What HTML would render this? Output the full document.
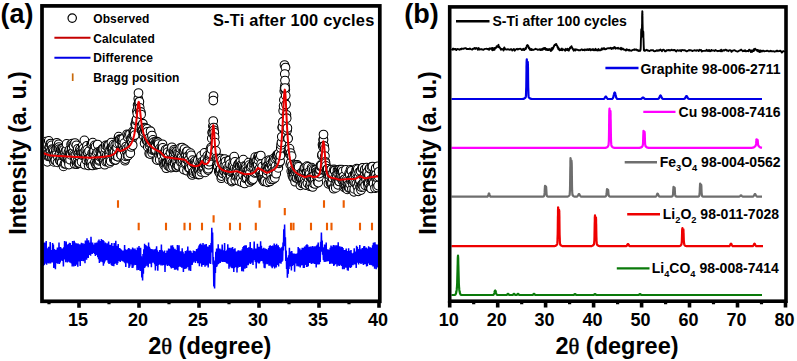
<!DOCTYPE html>
<html><head><meta charset="utf-8"><style>
html,body{margin:0;padding:0;background:#fff;width:797px;height:361px;overflow:hidden}
svg{display:block}
text{font-family:"Liberation Sans", sans-serif;font-weight:bold;fill:#000}
.tl{font-size:18px;text-anchor:middle}
.xl{font-size:23.5px;text-anchor:middle}
.yl{font-size:23.2px;text-anchor:middle}
.pl{font-size:27px;text-anchor:middle}
.lg{font-size:12px;letter-spacing:0.12px}
.tt{font-size:16.4px;text-anchor:end;letter-spacing:0.2px}
.lb{font-size:14px;text-anchor:end}
.sb{font-size:9.3px}
.th{font-family:"Liberation Serif",serif;font-weight:normal;font-size:22.5px;stroke:#000;stroke-width:0.5px}
</style></head><body>
<svg width="797" height="361" viewBox="0 0 797 361">
<defs><clipPath id="ca"><rect x="43.8" y="7.8" width="334.1" height="291.6"/></clipPath></defs>
<path d="M118 200.3V207.7M259.6 200.3V207.7M324 200.3V207.7M343.7 200.3V207.7M284.8 208V215.2M213.6 215.3V222.5M138.7 222.8V230.2M166 222.8V230.2M184.5 222.8V230.2M190 222.8V230.2M202 222.8V230.2M230 222.8V230.2M240 222.8V230.2M255.8 222.8V230.2M291 222.8V230.2M293.5 222.8V230.2M311 222.8V230.2M327 222.8V230.2M331.5 222.8V230.2M360 222.8V230.2M372 222.8V230.2" stroke="#ec5c00" stroke-width="2.1"/>
<polyline points="43.0,242.8 43.4,266.0 43.8,243.0 44.2,265.0 44.6,242.5 45.0,263.8 45.4,243.2 45.8,262.3 46.2,241.1 46.6,264.7 47.0,248.6 47.4,261.9 47.8,248.3 48.2,263.2 48.6,246.8 49.0,263.5 49.4,248.2 49.8,262.0 50.2,242.0 50.6,263.4 51.0,250.5 51.4,261.3 51.8,250.1 52.2,262.4 52.6,242.9 53.0,261.9 53.4,244.4 53.8,267.9 54.2,249.0 54.6,262.5 55.0,249.7 55.4,269.3 55.8,249.8 56.2,261.9 56.6,249.8 57.0,263.3 57.4,247.6 57.8,263.8 58.2,248.7 58.6,262.1 59.0,242.4 59.4,263.9 59.8,248.8 60.2,262.6 60.6,246.9 61.0,260.8 61.4,249.1 61.8,259.8 62.2,248.4 62.6,261.1 63.0,248.7 63.4,266.5 63.8,247.3 64.2,259.4 64.6,241.0 65.0,259.5 65.4,246.3 65.8,262.3 66.2,241.6 66.6,259.7 67.0,244.8 67.4,262.5 67.8,244.5 68.2,261.4 68.6,244.1 69.0,261.7 69.4,242.7 69.8,262.4 70.2,243.0 70.6,262.8 71.0,245.6 71.4,263.6 71.8,245.0 72.2,266.6 72.6,241.1 73.0,264.9 73.4,245.5 73.8,266.4 74.2,240.8 74.6,264.6 75.0,242.4 75.4,265.9 75.8,243.7 76.2,264.7 76.6,243.3 77.0,264.1 77.4,243.7 77.8,266.7 78.2,243.5 78.6,261.5 79.0,245.3 79.4,261.2 79.8,244.2 80.2,266.0 80.6,245.0 81.0,260.4 81.4,242.8 81.8,260.9 82.2,243.3 82.6,258.6 83.0,243.3 83.4,261.3 83.8,244.8 84.2,260.0 84.6,243.7 85.0,263.2 85.4,240.4 85.8,259.3 86.2,242.1 86.6,259.7 87.0,238.2 87.4,256.7 87.8,241.8 88.2,258.0 88.6,240.3 89.0,254.9 89.4,243.0 89.8,255.0 90.2,242.6 90.6,255.7 91.0,236.8 91.4,252.8 91.8,244.3 92.2,254.0 92.6,242.5 93.0,252.7 93.4,244.6 93.8,253.0 94.2,244.5 94.6,253.9 95.0,242.7 95.4,255.9 95.8,243.7 96.2,254.3 96.6,242.5 97.0,255.0 97.4,242.6 97.8,257.2 98.2,240.7 98.6,259.2 99.0,239.6 99.4,263.0 99.8,241.4 100.2,261.6 100.6,240.9 101.0,261.8 101.4,239.1 101.8,259.5 102.2,240.1 102.6,262.3 103.0,240.1 103.4,265.8 103.8,241.1 104.2,263.5 104.6,243.8 105.0,261.4 105.4,242.4 105.8,259.6 106.2,246.0 106.6,260.3 107.0,243.3 107.4,260.3 107.8,243.8 108.2,262.8 108.6,241.6 109.0,264.0 109.4,244.9 109.8,263.6 110.2,244.8 110.6,263.2 111.0,245.3 111.4,265.1 111.8,242.9 112.2,266.1 112.6,245.9 113.0,263.9 113.4,246.7 113.8,266.2 114.2,242.9 114.6,264.0 115.0,246.7 115.4,263.5 115.8,240.7 116.2,263.5 116.6,245.7 117.0,265.0 117.4,246.8 117.8,263.2 118.2,244.1 118.6,260.4 119.0,248.6 119.4,261.1 119.8,248.0 120.2,262.0 120.6,249.1 121.0,260.1 121.4,249.9 121.8,260.6 122.2,251.1 122.6,261.2 123.0,250.5 123.4,261.4 123.8,251.4 124.2,262.3 124.6,245.0 125.0,263.2 125.4,249.2 125.8,267.1 126.2,249.7 126.6,262.1 127.0,250.4 127.4,262.8 127.8,249.2 128.2,263.6 128.6,248.1 129.0,267.9 129.4,248.4 129.8,266.5 130.2,251.2 130.6,264.1 131.0,249.3 131.4,264.6 131.8,250.7 132.2,268.1 132.6,247.4 133.0,267.7 133.4,248.6 133.8,265.6 134.2,250.0 134.6,263.6 135.0,248.4 135.4,265.1 135.8,250.0 136.2,263.8 136.6,251.3 137.0,270.3 137.4,247.5 137.8,264.7 138.2,248.4 138.6,269.9 139.0,246.0 139.4,266.8 139.8,247.9 140.2,270.9 140.6,247.8 141.0,270.7 141.4,256.3 141.8,277.6 142.2,259.5 142.6,280.5 143.0,253.9 143.4,273.7 143.8,249.3 144.2,268.0 144.6,243.7 145.0,267.4 145.4,245.0 145.8,266.3 146.2,245.5 146.6,263.0 147.0,247.4 147.4,265.7 147.8,246.2 148.2,267.2 148.6,242.4 149.0,261.1 149.4,246.7 149.8,263.8 150.2,248.5 150.6,261.9 151.0,250.4 151.4,267.2 151.8,249.1 152.2,261.2 152.6,249.6 153.0,262.7 153.4,251.5 153.8,261.0 154.2,249.3 154.6,264.2 155.0,251.6 155.4,270.6 155.8,248.7 156.2,263.9 156.6,246.2 157.0,266.1 157.4,250.3 157.8,270.8 158.2,251.7 158.6,265.0 159.0,252.1 159.4,264.0 159.8,250.0 160.2,264.5 160.6,251.2 161.0,265.4 161.4,244.5 161.8,264.3 162.2,250.3 162.6,265.4 163.0,252.6 163.4,265.1 163.8,251.6 164.2,263.8 164.6,250.5 165.0,271.9 165.4,253.4 165.8,264.7 166.2,253.0 166.6,263.8 167.0,250.6 167.4,266.1 167.8,250.7 168.2,265.5 168.6,248.6 169.0,265.1 169.4,248.8 169.8,266.0 170.2,249.8 170.6,267.2 171.0,245.6 171.4,268.6 171.8,245.4 172.2,268.1 172.6,245.3 173.0,266.7 173.4,247.3 173.8,268.0 174.2,249.7 174.6,269.8 175.0,248.7 175.4,269.7 175.8,250.0 176.2,269.5 176.6,250.6 177.0,268.4 177.4,244.9 177.8,270.5 178.2,250.9 178.6,266.9 179.0,245.3 179.4,266.5 179.8,251.7 180.2,266.4 180.6,251.3 181.0,267.0 181.4,251.6 181.8,267.8 182.2,248.3 182.6,267.0 183.0,251.7 183.4,272.1 183.8,253.5 184.2,268.5 184.6,253.4 185.0,269.1 185.4,251.0 185.8,268.5 186.2,252.5 186.6,268.5 187.0,250.3 187.4,266.6 187.8,246.5 188.2,267.0 188.6,250.7 189.0,270.5 189.4,251.0 189.8,266.7 190.2,250.4 190.6,270.9 191.0,251.2 191.4,263.9 191.8,253.0 192.2,264.9 192.6,252.9 193.0,262.6 193.4,250.6 193.8,261.8 194.2,251.1 194.6,261.1 195.0,251.2 195.4,263.0 195.8,251.6 196.2,261.0 196.6,249.0 197.0,261.2 197.4,249.5 197.8,263.3 198.2,247.7 198.6,262.7 199.0,245.4 199.4,266.3 199.8,244.2 200.2,262.5 200.6,243.4 201.0,263.5 201.4,244.8 201.8,266.8 202.2,245.8 202.6,264.4 203.0,242.9 203.4,265.1 203.8,246.2 204.2,263.3 204.6,244.6 205.0,266.8 205.4,244.8 205.8,265.5 206.2,243.9 206.6,265.5 207.0,246.9 207.4,262.1 207.8,246.5 208.2,267.5 208.6,247.5 209.0,263.6 209.4,245.1 209.8,262.8 210.2,246.7 210.6,264.1 211.0,243.0 211.4,252.4 211.8,227.8 212.2,245.0 212.6,232.4 213.0,264.5 213.4,257.0 213.8,286.4 214.2,273.9 214.6,288.5 215.0,260.5 215.4,273.0 215.8,251.7 216.2,267.1 216.6,248.4 217.0,266.4 217.4,249.1 217.8,264.4 218.2,244.3 218.6,263.9 219.0,250.4 219.4,262.4 219.8,248.6 220.2,262.9 220.6,249.6 221.0,261.8 221.4,251.6 221.8,260.9 222.2,244.6 222.6,262.0 223.0,250.3 223.4,261.0 223.8,252.5 224.2,261.9 224.6,243.1 225.0,261.8 225.4,251.4 225.8,262.3 226.2,251.0 226.6,263.2 227.0,249.8 227.4,263.8 227.8,244.3 228.2,263.6 228.6,248.5 229.0,268.8 229.4,247.7 229.8,266.7 230.2,250.0 230.6,264.4 231.0,247.8 231.4,267.7 231.8,248.8 232.2,268.2 232.6,247.1 233.0,266.6 233.4,250.1 233.8,271.9 234.2,249.0 234.6,267.9 235.0,248.2 235.4,266.9 235.8,251.5 236.2,264.9 236.6,251.7 237.0,272.4 237.4,251.3 237.8,267.9 238.2,250.2 238.6,265.2 239.0,250.5 239.4,267.0 239.8,251.5 240.2,266.8 240.6,250.5 241.0,266.0 241.4,250.9 241.8,271.2 242.2,249.2 242.6,269.7 243.0,246.9 243.4,271.5 243.8,246.0 244.2,268.5 244.6,245.4 245.0,268.7 245.4,245.3 245.8,265.8 246.2,245.3 246.6,267.9 247.0,248.4 247.4,264.6 247.8,248.0 248.2,265.2 248.6,247.2 249.0,263.6 249.4,248.8 249.8,262.1 250.2,242.1 250.6,264.1 251.0,248.0 251.4,262.8 251.8,248.0 252.2,262.2 252.6,249.2 253.0,265.1 253.4,249.8 253.8,259.4 254.2,241.5 254.6,260.1 255.0,250.1 255.4,261.9 255.8,248.4 256.2,268.4 256.6,249.0 257.0,262.6 257.4,243.7 257.8,261.0 258.2,248.5 258.6,263.6 259.0,246.7 259.4,263.5 259.8,248.6 260.2,261.6 260.6,241.3 261.0,261.0 261.4,245.8 261.8,260.9 262.2,248.4 262.6,261.3 263.0,249.0 263.4,263.4 263.8,247.8 264.2,267.8 264.6,249.4 265.0,268.3 265.4,248.5 265.8,264.2 266.2,248.9 266.6,261.2 267.0,249.7 267.4,264.2 267.8,249.5 268.2,262.6 268.6,248.1 269.0,265.7 269.4,246.0 269.8,265.8 270.2,245.3 270.6,263.9 271.0,246.0 271.4,266.7 271.8,246.0 272.2,268.2 272.6,245.5 273.0,266.8 273.4,247.1 273.8,265.5 274.2,243.6 274.6,268.5 275.0,245.1 275.4,267.2 275.8,247.7 276.2,267.5 276.6,243.7 277.0,264.2 277.4,246.1 277.8,265.1 278.2,245.2 278.6,266.6 279.0,247.0 279.4,263.2 279.8,248.5 280.2,263.1 280.6,248.2 281.0,263.8 281.4,247.4 281.8,261.9 282.2,246.8 282.6,260.7 283.0,242.5 283.4,250.5 283.8,229.2 284.2,243.7 284.6,224.4 285.0,246.2 285.4,237.2 285.8,261.0 286.2,250.4 286.6,268.9 287.0,257.5 287.4,277.8 287.8,262.3 288.2,273.9 288.6,255.2 289.0,269.0 289.4,247.7 289.8,266.2 290.2,253.1 290.6,266.4 291.0,251.4 291.4,270.6 291.8,251.1 292.2,266.1 292.6,253.2 293.0,265.1 293.4,254.0 293.8,264.6 294.2,253.6 294.6,271.8 295.0,254.3 295.4,263.4 295.8,253.7 296.2,263.3 296.6,253.7 297.0,266.2 297.4,253.2 297.8,264.1 298.2,247.1 298.6,266.4 299.0,248.3 299.4,265.6 299.8,248.4 300.2,267.6 300.6,251.0 301.0,265.6 301.4,249.8 301.8,264.8 302.2,247.7 302.6,265.3 303.0,247.9 303.4,267.9 303.8,247.7 304.2,267.9 304.6,246.5 305.0,265.1 305.4,246.6 305.8,263.7 306.2,245.1 306.6,266.9 307.0,244.3 307.4,266.8 307.8,245.2 308.2,266.3 308.6,247.4 309.0,262.0 309.4,246.9 309.8,263.0 310.2,246.5 310.6,261.8 311.0,246.6 311.4,263.9 311.8,248.2 312.2,262.9 312.6,246.1 313.0,263.6 313.4,248.3 313.8,263.0 314.2,246.6 314.6,263.9 315.0,246.3 315.4,263.0 315.8,246.8 316.2,267.5 316.6,245.5 317.0,264.2 317.4,244.5 317.8,264.5 318.2,242.4 318.6,264.4 319.0,247.6 319.4,264.2 319.8,246.8 320.2,262.1 320.6,241.7 321.0,251.7 321.4,232.6 321.8,248.6 322.2,240.4 322.6,254.8 323.0,247.3 323.4,259.9 323.8,249.8 324.2,261.7 324.6,244.5 325.0,261.9 325.4,250.2 325.8,261.5 326.2,242.5 326.6,261.6 327.0,249.9 327.4,261.0 327.8,249.4 328.2,261.3 328.6,249.9 329.0,261.3 329.4,249.8 329.8,263.9 330.2,247.7 330.6,263.6 331.0,245.5 331.4,262.1 331.8,246.6 332.2,263.8 332.6,247.5 333.0,263.7 333.4,245.1 333.8,266.1 334.2,246.7 334.6,265.1 335.0,245.2 335.4,264.0 335.8,248.0 336.2,262.4 336.6,245.3 337.0,266.5 337.4,247.9 337.8,264.1 338.2,242.3 338.6,265.6 339.0,250.0 339.4,266.0 339.8,246.3 340.2,263.4 340.6,248.4 341.0,265.2 341.4,246.7 341.8,266.1 342.2,247.0 342.6,269.3 343.0,247.9 343.4,266.1 343.8,250.1 344.2,269.2 344.6,250.1 345.0,266.3 345.4,250.1 345.8,267.8 346.2,248.6 346.6,267.8 347.0,251.1 347.4,270.2 347.8,250.9 348.2,270.8 348.6,248.3 349.0,267.5 349.4,251.1 349.8,267.4 350.2,250.8 350.6,268.1 351.0,250.1 351.4,266.9 351.8,253.4 352.2,264.0 352.6,254.0 353.0,265.2 353.4,252.8 353.8,263.1 354.2,248.2 354.6,264.5 355.0,251.9 355.4,264.3 355.8,251.4 356.2,268.0 356.6,245.8 357.0,262.6 357.4,247.1 357.8,262.6 358.2,250.6 358.6,264.6 359.0,249.0 359.4,262.9 359.8,245.0 360.2,263.1 360.6,249.5 361.0,263.9 361.4,249.3 361.8,262.2 362.2,248.1 362.6,263.4 363.0,248.5 363.4,264.9 363.8,246.3 364.2,263.8 364.6,246.1 365.0,264.3 365.4,248.3 365.8,261.3 366.2,247.4 366.6,266.5 367.0,248.6 367.4,265.9 367.8,248.4 368.2,261.7 368.6,246.3 369.0,263.6 369.4,247.2 369.8,265.0 370.2,247.3 370.6,263.8 371.0,247.8 371.4,265.2 371.8,248.4 372.2,265.2 372.6,245.2 373.0,266.4 373.4,242.8 373.8,265.5 374.2,242.4 374.6,268.8 375.0,242.3 375.4,265.4 375.8,244.2 376.2,269.2 376.6,245.2 377.0,266.2 377.4,244.5 377.8,267.5 378.2,245.8 378.6,263.9 379.0,245.9 379.4,264.9" fill="none" stroke="#0000ff" stroke-width="1.5"/>
<g clip-path="url(#ca)" fill="#fff" stroke="#000" stroke-width="1.05"><circle cx="43.5" cy="149.5" r="4.35"/><circle cx="43.9" cy="156.4" r="4.35"/><circle cx="44.2" cy="155.9" r="4.35"/><circle cx="44.6" cy="159.0" r="4.35"/><circle cx="44.9" cy="142.5" r="4.35"/><circle cx="45.3" cy="141.5" r="4.35"/><circle cx="45.6" cy="147.0" r="4.35"/><circle cx="46.0" cy="157.9" r="4.35"/><circle cx="46.3" cy="143.7" r="4.35"/><circle cx="46.7" cy="158.5" r="4.35"/><circle cx="47.0" cy="159.8" r="4.35"/><circle cx="47.4" cy="161.8" r="4.35"/><circle cx="47.7" cy="154.0" r="4.35"/><circle cx="48.1" cy="156.3" r="4.35"/><circle cx="48.4" cy="155.1" r="4.35"/><circle cx="48.8" cy="140.9" r="4.35"/><circle cx="49.1" cy="147.6" r="4.35"/><circle cx="49.5" cy="146.9" r="4.35"/><circle cx="49.8" cy="156.2" r="4.35"/><circle cx="50.2" cy="143.8" r="4.35"/><circle cx="50.5" cy="151.3" r="4.35"/><circle cx="50.9" cy="143.6" r="4.35"/><circle cx="51.2" cy="155.2" r="4.35"/><circle cx="51.6" cy="145.4" r="4.35"/><circle cx="51.9" cy="157.6" r="4.35"/><circle cx="52.3" cy="149.0" r="4.35"/><circle cx="52.6" cy="150.1" r="4.35"/><circle cx="53.0" cy="155.0" r="4.35"/><circle cx="53.3" cy="159.2" r="4.35"/><circle cx="53.7" cy="151.2" r="4.35"/><circle cx="54.0" cy="161.9" r="4.35"/><circle cx="54.4" cy="156.7" r="4.35"/><circle cx="54.7" cy="154.0" r="4.35"/><circle cx="55.1" cy="160.5" r="4.35"/><circle cx="55.4" cy="160.1" r="4.35"/><circle cx="55.8" cy="151.3" r="4.35"/><circle cx="56.1" cy="149.1" r="4.35"/><circle cx="56.5" cy="154.6" r="4.35"/><circle cx="56.8" cy="142.8" r="4.35"/><circle cx="57.2" cy="147.5" r="4.35"/><circle cx="57.5" cy="162.4" r="4.35"/><circle cx="57.9" cy="156.7" r="4.35"/><circle cx="58.2" cy="146.8" r="4.35"/><circle cx="58.6" cy="144.3" r="4.35"/><circle cx="58.9" cy="147.0" r="4.35"/><circle cx="59.3" cy="149.0" r="4.35"/><circle cx="59.6" cy="160.2" r="4.35"/><circle cx="60.0" cy="153.5" r="4.35"/><circle cx="60.3" cy="161.2" r="4.35"/><circle cx="60.7" cy="149.6" r="4.35"/><circle cx="61.0" cy="157.5" r="4.35"/><circle cx="61.4" cy="149.2" r="4.35"/><circle cx="61.7" cy="162.5" r="4.35"/><circle cx="62.1" cy="155.6" r="4.35"/><circle cx="62.4" cy="149.7" r="4.35"/><circle cx="62.8" cy="148.7" r="4.35"/><circle cx="63.1" cy="155.1" r="4.35"/><circle cx="63.5" cy="166.4" r="4.35"/><circle cx="63.8" cy="149.8" r="4.35"/><circle cx="64.2" cy="156.2" r="4.35"/><circle cx="64.5" cy="163.8" r="4.35"/><circle cx="64.9" cy="152.1" r="4.35"/><circle cx="65.2" cy="156.4" r="4.35"/><circle cx="65.6" cy="163.8" r="4.35"/><circle cx="65.9" cy="150.1" r="4.35"/><circle cx="66.3" cy="150.7" r="4.35"/><circle cx="66.6" cy="143.9" r="4.35"/><circle cx="67.0" cy="156.4" r="4.35"/><circle cx="67.3" cy="158.5" r="4.35"/><circle cx="67.7" cy="160.0" r="4.35"/><circle cx="68.0" cy="159.3" r="4.35"/><circle cx="68.4" cy="152.5" r="4.35"/><circle cx="68.7" cy="161.2" r="4.35"/><circle cx="69.0" cy="164.6" r="4.35"/><circle cx="69.4" cy="150.0" r="4.35"/><circle cx="69.7" cy="154.1" r="4.35"/><circle cx="70.1" cy="159.7" r="4.35"/><circle cx="70.4" cy="153.6" r="4.35"/><circle cx="70.8" cy="154.9" r="4.35"/><circle cx="71.1" cy="144.4" r="4.35"/><circle cx="71.5" cy="149.0" r="4.35"/><circle cx="71.8" cy="147.9" r="4.35"/><circle cx="72.2" cy="143.7" r="4.35"/><circle cx="72.5" cy="152.5" r="4.35"/><circle cx="72.9" cy="152.7" r="4.35"/><circle cx="73.2" cy="144.9" r="4.35"/><circle cx="73.6" cy="146.1" r="4.35"/><circle cx="73.9" cy="154.4" r="4.35"/><circle cx="74.3" cy="156.2" r="4.35"/><circle cx="74.6" cy="164.0" r="4.35"/><circle cx="75.0" cy="143.0" r="4.35"/><circle cx="75.3" cy="160.8" r="4.35"/><circle cx="75.7" cy="158.5" r="4.35"/><circle cx="76.0" cy="154.6" r="4.35"/><circle cx="76.4" cy="145.3" r="4.35"/><circle cx="76.7" cy="164.2" r="4.35"/><circle cx="77.1" cy="161.6" r="4.35"/><circle cx="77.4" cy="152.1" r="4.35"/><circle cx="77.8" cy="148.8" r="4.35"/><circle cx="78.1" cy="163.3" r="4.35"/><circle cx="78.5" cy="153.8" r="4.35"/><circle cx="78.8" cy="162.6" r="4.35"/><circle cx="79.2" cy="156.1" r="4.35"/><circle cx="79.5" cy="163.0" r="4.35"/><circle cx="79.9" cy="149.8" r="4.35"/><circle cx="80.2" cy="148.9" r="4.35"/><circle cx="80.6" cy="152.7" r="4.35"/><circle cx="80.9" cy="151.2" r="4.35"/><circle cx="81.3" cy="153.2" r="4.35"/><circle cx="81.6" cy="161.7" r="4.35"/><circle cx="82.0" cy="155.0" r="4.35"/><circle cx="82.3" cy="152.2" r="4.35"/><circle cx="82.7" cy="145.6" r="4.35"/><circle cx="83.0" cy="150.4" r="4.35"/><circle cx="83.4" cy="148.5" r="4.35"/><circle cx="83.7" cy="154.2" r="4.35"/><circle cx="84.1" cy="152.5" r="4.35"/><circle cx="84.4" cy="140.4" r="4.35"/><circle cx="84.8" cy="164.7" r="4.35"/><circle cx="85.1" cy="156.8" r="4.35"/><circle cx="85.5" cy="150.2" r="4.35"/><circle cx="85.8" cy="156.6" r="4.35"/><circle cx="86.2" cy="154.6" r="4.35"/><circle cx="86.5" cy="160.3" r="4.35"/><circle cx="86.9" cy="145.8" r="4.35"/><circle cx="87.2" cy="149.7" r="4.35"/><circle cx="87.6" cy="153.1" r="4.35"/><circle cx="87.9" cy="152.7" r="4.35"/><circle cx="88.3" cy="158.8" r="4.35"/><circle cx="88.6" cy="165.5" r="4.35"/><circle cx="89.0" cy="151.1" r="4.35"/><circle cx="89.3" cy="161.9" r="4.35"/><circle cx="89.7" cy="158.1" r="4.35"/><circle cx="90.0" cy="160.7" r="4.35"/><circle cx="90.4" cy="157.7" r="4.35"/><circle cx="90.7" cy="164.3" r="4.35"/><circle cx="91.1" cy="144.4" r="4.35"/><circle cx="91.4" cy="162.2" r="4.35"/><circle cx="91.8" cy="144.0" r="4.35"/><circle cx="92.1" cy="153.1" r="4.35"/><circle cx="92.5" cy="165.5" r="4.35"/><circle cx="92.8" cy="142.7" r="4.35"/><circle cx="93.2" cy="153.6" r="4.35"/><circle cx="93.5" cy="152.2" r="4.35"/><circle cx="93.9" cy="153.5" r="4.35"/><circle cx="94.2" cy="150.9" r="4.35"/><circle cx="94.6" cy="145.4" r="4.35"/><circle cx="94.9" cy="162.2" r="4.35"/><circle cx="95.3" cy="155.9" r="4.35"/><circle cx="95.6" cy="146.4" r="4.35"/><circle cx="96.0" cy="164.8" r="4.35"/><circle cx="96.3" cy="164.1" r="4.35"/><circle cx="96.7" cy="152.9" r="4.35"/><circle cx="97.0" cy="162.3" r="4.35"/><circle cx="97.4" cy="163.0" r="4.35"/><circle cx="97.7" cy="144.5" r="4.35"/><circle cx="98.1" cy="152.1" r="4.35"/><circle cx="98.4" cy="164.2" r="4.35"/><circle cx="98.8" cy="158.9" r="4.35"/><circle cx="99.1" cy="160.9" r="4.35"/><circle cx="99.5" cy="160.0" r="4.35"/><circle cx="99.8" cy="156.6" r="4.35"/><circle cx="100.2" cy="151.3" r="4.35"/><circle cx="100.5" cy="151.3" r="4.35"/><circle cx="100.9" cy="155.1" r="4.35"/><circle cx="101.2" cy="156.2" r="4.35"/><circle cx="101.6" cy="151.4" r="4.35"/><circle cx="101.9" cy="154.1" r="4.35"/><circle cx="102.3" cy="149.6" r="4.35"/><circle cx="102.6" cy="148.6" r="4.35"/><circle cx="103.0" cy="159.5" r="4.35"/><circle cx="103.3" cy="149.0" r="4.35"/><circle cx="103.7" cy="161.5" r="4.35"/><circle cx="104.0" cy="159.1" r="4.35"/><circle cx="104.4" cy="156.9" r="4.35"/><circle cx="104.7" cy="164.7" r="4.35"/><circle cx="105.1" cy="152.9" r="4.35"/><circle cx="105.4" cy="148.2" r="4.35"/><circle cx="105.8" cy="145.4" r="4.35"/><circle cx="106.1" cy="161.7" r="4.35"/><circle cx="106.5" cy="158.4" r="4.35"/><circle cx="106.8" cy="155.1" r="4.35"/><circle cx="107.2" cy="146.3" r="4.35"/><circle cx="107.5" cy="161.5" r="4.35"/><circle cx="107.9" cy="145.0" r="4.35"/><circle cx="108.2" cy="147.6" r="4.35"/><circle cx="108.6" cy="154.5" r="4.35"/><circle cx="108.9" cy="145.4" r="4.35"/><circle cx="109.3" cy="155.5" r="4.35"/><circle cx="109.6" cy="162.9" r="4.35"/><circle cx="110.0" cy="150.6" r="4.35"/><circle cx="110.3" cy="159.7" r="4.35"/><circle cx="110.7" cy="161.2" r="4.35"/><circle cx="111.0" cy="148.0" r="4.35"/><circle cx="111.4" cy="142.5" r="4.35"/><circle cx="111.7" cy="147.5" r="4.35"/><circle cx="112.1" cy="147.3" r="4.35"/><circle cx="112.4" cy="152.3" r="4.35"/><circle cx="112.8" cy="147.7" r="4.35"/><circle cx="113.1" cy="152.4" r="4.35"/><circle cx="113.5" cy="144.6" r="4.35"/><circle cx="113.8" cy="159.6" r="4.35"/><circle cx="114.2" cy="152.6" r="4.35"/><circle cx="114.5" cy="152.1" r="4.35"/><circle cx="114.9" cy="160.2" r="4.35"/><circle cx="115.2" cy="145.3" r="4.35"/><circle cx="115.6" cy="159.8" r="4.35"/><circle cx="115.9" cy="155.9" r="4.35"/><circle cx="116.3" cy="147.8" r="4.35"/><circle cx="116.6" cy="153.1" r="4.35"/><circle cx="117.0" cy="147.5" r="4.35"/><circle cx="117.3" cy="143.4" r="4.35"/><circle cx="117.7" cy="156.6" r="4.35"/><circle cx="118.0" cy="156.7" r="4.35"/><circle cx="118.4" cy="138.1" r="4.35"/><circle cx="118.7" cy="136.6" r="4.35"/><circle cx="119.1" cy="140.0" r="4.35"/><circle cx="119.4" cy="143.2" r="4.35"/><circle cx="119.8" cy="139.2" r="4.35"/><circle cx="120.1" cy="139.5" r="4.35"/><circle cx="120.5" cy="150.5" r="4.35"/><circle cx="120.8" cy="154.3" r="4.35"/><circle cx="121.2" cy="155.2" r="4.35"/><circle cx="121.5" cy="139.5" r="4.35"/><circle cx="121.9" cy="141.8" r="4.35"/><circle cx="122.2" cy="145.4" r="4.35"/><circle cx="122.6" cy="141.8" r="4.35"/><circle cx="122.9" cy="146.5" r="4.35"/><circle cx="123.3" cy="138.9" r="4.35"/><circle cx="123.6" cy="149.2" r="4.35"/><circle cx="124.0" cy="149.5" r="4.35"/><circle cx="124.3" cy="143.1" r="4.35"/><circle cx="124.7" cy="151.8" r="4.35"/><circle cx="125.0" cy="160.7" r="4.35"/><circle cx="125.4" cy="159.1" r="4.35"/><circle cx="125.7" cy="156.4" r="4.35"/><circle cx="126.1" cy="146.5" r="4.35"/><circle cx="126.4" cy="150.6" r="4.35"/><circle cx="126.8" cy="148.8" r="4.35"/><circle cx="127.1" cy="134.3" r="4.35"/><circle cx="127.5" cy="156.0" r="4.35"/><circle cx="127.8" cy="137.2" r="4.35"/><circle cx="128.2" cy="155.4" r="4.35"/><circle cx="128.5" cy="134.9" r="4.35"/><circle cx="128.9" cy="148.9" r="4.35"/><circle cx="129.2" cy="146.2" r="4.35"/><circle cx="129.6" cy="150.7" r="4.35"/><circle cx="129.9" cy="134.4" r="4.35"/><circle cx="130.3" cy="153.2" r="4.35"/><circle cx="130.6" cy="140.7" r="4.35"/><circle cx="131.0" cy="139.0" r="4.35"/><circle cx="131.3" cy="147.0" r="4.35"/><circle cx="131.7" cy="142.5" r="4.35"/><circle cx="132.0" cy="136.9" r="4.35"/><circle cx="132.4" cy="138.4" r="4.35"/><circle cx="132.7" cy="145.3" r="4.35"/><circle cx="133.1" cy="131.1" r="4.35"/><circle cx="133.4" cy="135.8" r="4.35"/><circle cx="133.8" cy="132.2" r="4.35"/><circle cx="134.1" cy="135.8" r="4.35"/><circle cx="134.5" cy="132.1" r="4.35"/><circle cx="134.8" cy="135.1" r="4.35"/><circle cx="135.2" cy="124.6" r="4.35"/><circle cx="135.5" cy="123.6" r="4.35"/><circle cx="135.9" cy="124.9" r="4.35"/><circle cx="136.2" cy="120.5" r="4.35"/><circle cx="136.6" cy="119.2" r="4.35"/><circle cx="136.9" cy="110.9" r="4.35"/><circle cx="137.3" cy="113.5" r="4.35"/><circle cx="137.6" cy="105.1" r="4.35"/><circle cx="138.0" cy="107.6" r="4.35"/><circle cx="138.3" cy="98.7" r="4.35"/><circle cx="138.7" cy="102.3" r="4.35"/><circle cx="139.0" cy="103.1" r="4.35"/><circle cx="139.4" cy="101.7" r="4.35"/><circle cx="139.7" cy="107.8" r="4.35"/><circle cx="140.1" cy="111.9" r="4.35"/><circle cx="140.4" cy="112.8" r="4.35"/><circle cx="140.8" cy="112.1" r="4.35"/><circle cx="141.1" cy="114.5" r="4.35"/><circle cx="141.5" cy="125.8" r="4.35"/><circle cx="141.8" cy="130.6" r="4.35"/><circle cx="142.2" cy="131.5" r="4.35"/><circle cx="142.5" cy="130.8" r="4.35"/><circle cx="142.9" cy="123.7" r="4.35"/><circle cx="143.2" cy="133.6" r="4.35"/><circle cx="143.6" cy="135.8" r="4.35"/><circle cx="143.9" cy="132.2" r="4.35"/><circle cx="144.3" cy="127.6" r="4.35"/><circle cx="144.6" cy="143.2" r="4.35"/><circle cx="145.0" cy="130.2" r="4.35"/><circle cx="145.3" cy="128.2" r="4.35"/><circle cx="145.7" cy="131.4" r="4.35"/><circle cx="146.0" cy="138.9" r="4.35"/><circle cx="146.4" cy="140.4" r="4.35"/><circle cx="146.7" cy="140.2" r="4.35"/><circle cx="147.1" cy="128.8" r="4.35"/><circle cx="147.4" cy="131.8" r="4.35"/><circle cx="147.8" cy="146.9" r="4.35"/><circle cx="148.1" cy="141.9" r="4.35"/><circle cx="148.5" cy="138.6" r="4.35"/><circle cx="148.8" cy="138.3" r="4.35"/><circle cx="149.2" cy="153.5" r="4.35"/><circle cx="149.5" cy="145.8" r="4.35"/><circle cx="149.9" cy="143.2" r="4.35"/><circle cx="150.2" cy="154.1" r="4.35"/><circle cx="150.6" cy="131.2" r="4.35"/><circle cx="150.9" cy="142.9" r="4.35"/><circle cx="151.3" cy="138.0" r="4.35"/><circle cx="151.6" cy="150.9" r="4.35"/><circle cx="152.0" cy="135.5" r="4.35"/><circle cx="152.3" cy="152.9" r="4.35"/><circle cx="152.7" cy="150.0" r="4.35"/><circle cx="153.0" cy="139.9" r="4.35"/><circle cx="153.4" cy="142.8" r="4.35"/><circle cx="153.7" cy="142.1" r="4.35"/><circle cx="154.1" cy="144.8" r="4.35"/><circle cx="154.4" cy="150.6" r="4.35"/><circle cx="154.8" cy="144.9" r="4.35"/><circle cx="155.1" cy="150.1" r="4.35"/><circle cx="155.5" cy="149.4" r="4.35"/><circle cx="155.8" cy="145.0" r="4.35"/><circle cx="156.2" cy="141.3" r="4.35"/><circle cx="156.5" cy="159.2" r="4.35"/><circle cx="156.9" cy="141.9" r="4.35"/><circle cx="157.2" cy="160.1" r="4.35"/><circle cx="157.6" cy="142.4" r="4.35"/><circle cx="157.9" cy="144.0" r="4.35"/><circle cx="158.3" cy="142.4" r="4.35"/><circle cx="158.6" cy="144.0" r="4.35"/><circle cx="159.0" cy="154.4" r="4.35"/><circle cx="159.3" cy="151.7" r="4.35"/><circle cx="159.7" cy="159.9" r="4.35"/><circle cx="160.0" cy="148.1" r="4.35"/><circle cx="160.4" cy="151.1" r="4.35"/><circle cx="160.7" cy="153.2" r="4.35"/><circle cx="161.1" cy="151.1" r="4.35"/><circle cx="161.4" cy="152.2" r="4.35"/><circle cx="161.8" cy="155.8" r="4.35"/><circle cx="162.1" cy="146.8" r="4.35"/><circle cx="162.5" cy="144.3" r="4.35"/><circle cx="162.8" cy="147.9" r="4.35"/><circle cx="163.2" cy="160.7" r="4.35"/><circle cx="163.5" cy="163.4" r="4.35"/><circle cx="163.9" cy="153.3" r="4.35"/><circle cx="164.2" cy="165.0" r="4.35"/><circle cx="164.6" cy="155.2" r="4.35"/><circle cx="164.9" cy="163.5" r="4.35"/><circle cx="165.3" cy="152.6" r="4.35"/><circle cx="165.6" cy="149.8" r="4.35"/><circle cx="166.0" cy="162.8" r="4.35"/><circle cx="166.3" cy="168.2" r="4.35"/><circle cx="166.7" cy="162.8" r="4.35"/><circle cx="167.0" cy="163.1" r="4.35"/><circle cx="167.4" cy="149.3" r="4.35"/><circle cx="167.7" cy="152.1" r="4.35"/><circle cx="168.1" cy="165.7" r="4.35"/><circle cx="168.4" cy="156.8" r="4.35"/><circle cx="168.8" cy="163.0" r="4.35"/><circle cx="169.1" cy="165.6" r="4.35"/><circle cx="169.5" cy="160.8" r="4.35"/><circle cx="169.8" cy="160.4" r="4.35"/><circle cx="170.2" cy="167.3" r="4.35"/><circle cx="170.5" cy="152.6" r="4.35"/><circle cx="170.9" cy="161.1" r="4.35"/><circle cx="171.2" cy="167.6" r="4.35"/><circle cx="171.6" cy="148.7" r="4.35"/><circle cx="171.9" cy="147.3" r="4.35"/><circle cx="172.3" cy="163.0" r="4.35"/><circle cx="172.6" cy="165.3" r="4.35"/><circle cx="173.0" cy="166.9" r="4.35"/><circle cx="173.3" cy="157.0" r="4.35"/><circle cx="173.7" cy="154.0" r="4.35"/><circle cx="174.0" cy="149.8" r="4.35"/><circle cx="174.4" cy="151.4" r="4.35"/><circle cx="174.7" cy="163.5" r="4.35"/><circle cx="175.1" cy="157.8" r="4.35"/><circle cx="175.4" cy="152.5" r="4.35"/><circle cx="175.8" cy="160.8" r="4.35"/><circle cx="176.1" cy="167.3" r="4.35"/><circle cx="176.5" cy="167.0" r="4.35"/><circle cx="176.8" cy="151.7" r="4.35"/><circle cx="177.2" cy="161.1" r="4.35"/><circle cx="177.5" cy="165.6" r="4.35"/><circle cx="177.9" cy="152.9" r="4.35"/><circle cx="178.2" cy="157.5" r="4.35"/><circle cx="178.6" cy="165.8" r="4.35"/><circle cx="178.9" cy="157.3" r="4.35"/><circle cx="179.3" cy="152.4" r="4.35"/><circle cx="179.6" cy="159.7" r="4.35"/><circle cx="180.0" cy="154.2" r="4.35"/><circle cx="180.3" cy="148.2" r="4.35"/><circle cx="180.7" cy="158.7" r="4.35"/><circle cx="181.0" cy="162.2" r="4.35"/><circle cx="181.4" cy="156.2" r="4.35"/><circle cx="181.7" cy="157.7" r="4.35"/><circle cx="182.1" cy="147.5" r="4.35"/><circle cx="182.4" cy="162.5" r="4.35"/><circle cx="182.8" cy="159.7" r="4.35"/><circle cx="183.1" cy="168.2" r="4.35"/><circle cx="183.5" cy="151.5" r="4.35"/><circle cx="183.8" cy="169.6" r="4.35"/><circle cx="184.2" cy="151.8" r="4.35"/><circle cx="184.5" cy="149.0" r="4.35"/><circle cx="184.9" cy="159.9" r="4.35"/><circle cx="185.2" cy="163.9" r="4.35"/><circle cx="185.6" cy="155.4" r="4.35"/><circle cx="185.9" cy="163.0" r="4.35"/><circle cx="186.3" cy="159.1" r="4.35"/><circle cx="186.6" cy="151.7" r="4.35"/><circle cx="187.0" cy="170.7" r="4.35"/><circle cx="187.3" cy="151.3" r="4.35"/><circle cx="187.7" cy="156.3" r="4.35"/><circle cx="188.0" cy="160.4" r="4.35"/><circle cx="188.4" cy="160.4" r="4.35"/><circle cx="188.7" cy="167.8" r="4.35"/><circle cx="189.1" cy="166.0" r="4.35"/><circle cx="189.4" cy="165.6" r="4.35"/><circle cx="189.8" cy="168.0" r="4.35"/><circle cx="190.1" cy="153.9" r="4.35"/><circle cx="190.5" cy="153.2" r="4.35"/><circle cx="190.8" cy="161.5" r="4.35"/><circle cx="191.2" cy="155.4" r="4.35"/><circle cx="191.5" cy="174.2" r="4.35"/><circle cx="191.9" cy="166.2" r="4.35"/><circle cx="192.2" cy="175.0" r="4.35"/><circle cx="192.6" cy="160.2" r="4.35"/><circle cx="192.9" cy="172.7" r="4.35"/><circle cx="193.3" cy="162.8" r="4.35"/><circle cx="193.6" cy="173.4" r="4.35"/><circle cx="194.0" cy="171.4" r="4.35"/><circle cx="194.3" cy="164.0" r="4.35"/><circle cx="194.7" cy="163.8" r="4.35"/><circle cx="195.0" cy="161.2" r="4.35"/><circle cx="195.4" cy="163.3" r="4.35"/><circle cx="195.7" cy="171.2" r="4.35"/><circle cx="196.1" cy="164.6" r="4.35"/><circle cx="196.4" cy="164.1" r="4.35"/><circle cx="196.8" cy="173.8" r="4.35"/><circle cx="197.1" cy="173.1" r="4.35"/><circle cx="197.5" cy="168.6" r="4.35"/><circle cx="197.8" cy="160.3" r="4.35"/><circle cx="198.2" cy="174.6" r="4.35"/><circle cx="198.5" cy="168.2" r="4.35"/><circle cx="198.9" cy="167.8" r="4.35"/><circle cx="199.2" cy="170.1" r="4.35"/><circle cx="199.6" cy="174.5" r="4.35"/><circle cx="199.9" cy="168.3" r="4.35"/><circle cx="200.3" cy="161.4" r="4.35"/><circle cx="200.6" cy="157.4" r="4.35"/><circle cx="201.0" cy="155.9" r="4.35"/><circle cx="201.3" cy="172.0" r="4.35"/><circle cx="201.7" cy="169.4" r="4.35"/><circle cx="202.0" cy="161.8" r="4.35"/><circle cx="202.4" cy="167.8" r="4.35"/><circle cx="202.7" cy="163.1" r="4.35"/><circle cx="203.1" cy="167.5" r="4.35"/><circle cx="203.4" cy="164.1" r="4.35"/><circle cx="203.8" cy="167.1" r="4.35"/><circle cx="204.1" cy="163.8" r="4.35"/><circle cx="204.5" cy="152.9" r="4.35"/><circle cx="204.8" cy="159.3" r="4.35"/><circle cx="205.2" cy="172.4" r="4.35"/><circle cx="205.5" cy="164.4" r="4.35"/><circle cx="205.9" cy="162.9" r="4.35"/><circle cx="206.2" cy="165.5" r="4.35"/><circle cx="206.6" cy="166.0" r="4.35"/><circle cx="206.9" cy="168.5" r="4.35"/><circle cx="207.3" cy="155.9" r="4.35"/><circle cx="207.6" cy="161.5" r="4.35"/><circle cx="208.0" cy="170.1" r="4.35"/><circle cx="208.3" cy="168.7" r="4.35"/><circle cx="208.7" cy="164.7" r="4.35"/><circle cx="209.0" cy="157.1" r="4.35"/><circle cx="209.4" cy="161.7" r="4.35"/><circle cx="209.7" cy="156.4" r="4.35"/><circle cx="210.1" cy="154.8" r="4.35"/><circle cx="210.4" cy="149.4" r="4.35"/><circle cx="210.8" cy="153.8" r="4.35"/><circle cx="211.1" cy="147.5" r="4.35"/><circle cx="211.5" cy="149.2" r="4.35"/><circle cx="211.8" cy="138.4" r="4.35"/><circle cx="212.2" cy="132.7" r="4.35"/><circle cx="212.5" cy="132.0" r="4.35"/><circle cx="212.9" cy="125.9" r="4.35"/><circle cx="213.2" cy="121.0" r="4.35"/><circle cx="213.6" cy="127.6" r="4.35"/><circle cx="213.9" cy="130.3" r="4.35"/><circle cx="214.3" cy="132.7" r="4.35"/><circle cx="214.6" cy="137.1" r="4.35"/><circle cx="215.0" cy="142.6" r="4.35"/><circle cx="215.3" cy="151.2" r="4.35"/><circle cx="215.7" cy="152.9" r="4.35"/><circle cx="216.0" cy="150.9" r="4.35"/><circle cx="216.4" cy="158.4" r="4.35"/><circle cx="216.7" cy="164.7" r="4.35"/><circle cx="217.1" cy="159.6" r="4.35"/><circle cx="217.4" cy="166.4" r="4.35"/><circle cx="217.8" cy="166.3" r="4.35"/><circle cx="218.1" cy="161.4" r="4.35"/><circle cx="218.5" cy="159.7" r="4.35"/><circle cx="218.8" cy="171.7" r="4.35"/><circle cx="219.2" cy="163.3" r="4.35"/><circle cx="219.5" cy="170.4" r="4.35"/><circle cx="219.9" cy="170.5" r="4.35"/><circle cx="220.2" cy="173.9" r="4.35"/><circle cx="220.6" cy="169.2" r="4.35"/><circle cx="220.9" cy="158.5" r="4.35"/><circle cx="221.3" cy="178.2" r="4.35"/><circle cx="221.6" cy="176.1" r="4.35"/><circle cx="222.0" cy="160.2" r="4.35"/><circle cx="222.3" cy="173.1" r="4.35"/><circle cx="222.7" cy="164.2" r="4.35"/><circle cx="223.0" cy="173.4" r="4.35"/><circle cx="223.4" cy="168.6" r="4.35"/><circle cx="223.7" cy="170.8" r="4.35"/><circle cx="224.1" cy="166.6" r="4.35"/><circle cx="224.4" cy="165.2" r="4.35"/><circle cx="224.8" cy="159.2" r="4.35"/><circle cx="225.1" cy="172.0" r="4.35"/><circle cx="225.5" cy="161.5" r="4.35"/><circle cx="225.8" cy="169.5" r="4.35"/><circle cx="226.2" cy="166.1" r="4.35"/><circle cx="226.5" cy="175.9" r="4.35"/><circle cx="226.9" cy="173.9" r="4.35"/><circle cx="227.2" cy="170.5" r="4.35"/><circle cx="227.6" cy="168.1" r="4.35"/><circle cx="227.9" cy="169.9" r="4.35"/><circle cx="228.3" cy="171.4" r="4.35"/><circle cx="228.6" cy="179.4" r="4.35"/><circle cx="229.0" cy="160.3" r="4.35"/><circle cx="229.3" cy="160.6" r="4.35"/><circle cx="229.7" cy="173.6" r="4.35"/><circle cx="230.0" cy="164.2" r="4.35"/><circle cx="230.4" cy="178.4" r="4.35"/><circle cx="230.7" cy="175.2" r="4.35"/><circle cx="231.1" cy="169.9" r="4.35"/><circle cx="231.4" cy="172.0" r="4.35"/><circle cx="231.8" cy="181.6" r="4.35"/><circle cx="232.1" cy="180.4" r="4.35"/><circle cx="232.5" cy="165.2" r="4.35"/><circle cx="232.8" cy="172.0" r="4.35"/><circle cx="233.2" cy="166.5" r="4.35"/><circle cx="233.5" cy="171.0" r="4.35"/><circle cx="233.9" cy="158.5" r="4.35"/><circle cx="234.2" cy="156.6" r="4.35"/><circle cx="234.6" cy="168.1" r="4.35"/><circle cx="234.9" cy="161.9" r="4.35"/><circle cx="235.3" cy="180.1" r="4.35"/><circle cx="235.6" cy="176.1" r="4.35"/><circle cx="236.0" cy="172.1" r="4.35"/><circle cx="236.3" cy="169.5" r="4.35"/><circle cx="236.7" cy="175.2" r="4.35"/><circle cx="237.0" cy="169.1" r="4.35"/><circle cx="237.4" cy="166.8" r="4.35"/><circle cx="237.7" cy="173.4" r="4.35"/><circle cx="238.1" cy="164.5" r="4.35"/><circle cx="238.4" cy="164.5" r="4.35"/><circle cx="238.8" cy="176.7" r="4.35"/><circle cx="239.1" cy="181.1" r="4.35"/><circle cx="239.5" cy="162.4" r="4.35"/><circle cx="239.8" cy="166.1" r="4.35"/><circle cx="240.2" cy="176.4" r="4.35"/><circle cx="240.5" cy="161.9" r="4.35"/><circle cx="240.9" cy="178.3" r="4.35"/><circle cx="241.2" cy="165.3" r="4.35"/><circle cx="241.6" cy="164.6" r="4.35"/><circle cx="241.9" cy="182.2" r="4.35"/><circle cx="242.3" cy="167.0" r="4.35"/><circle cx="242.6" cy="165.5" r="4.35"/><circle cx="243.0" cy="175.1" r="4.35"/><circle cx="243.3" cy="159.6" r="4.35"/><circle cx="243.7" cy="170.2" r="4.35"/><circle cx="244.0" cy="167.5" r="4.35"/><circle cx="244.4" cy="166.2" r="4.35"/><circle cx="244.7" cy="183.5" r="4.35"/><circle cx="245.1" cy="168.4" r="4.35"/><circle cx="245.4" cy="178.3" r="4.35"/><circle cx="245.8" cy="166.3" r="4.35"/><circle cx="246.1" cy="168.6" r="4.35"/><circle cx="246.5" cy="177.6" r="4.35"/><circle cx="246.8" cy="178.0" r="4.35"/><circle cx="247.2" cy="170.5" r="4.35"/><circle cx="247.5" cy="172.9" r="4.35"/><circle cx="247.9" cy="172.9" r="4.35"/><circle cx="248.2" cy="173.7" r="4.35"/><circle cx="248.6" cy="162.6" r="4.35"/><circle cx="248.9" cy="169.3" r="4.35"/><circle cx="249.3" cy="165.2" r="4.35"/><circle cx="249.6" cy="182.0" r="4.35"/><circle cx="250.0" cy="172.8" r="4.35"/><circle cx="250.3" cy="178.6" r="4.35"/><circle cx="250.7" cy="167.0" r="4.35"/><circle cx="251.0" cy="177.6" r="4.35"/><circle cx="251.4" cy="180.6" r="4.35"/><circle cx="251.7" cy="165.7" r="4.35"/><circle cx="252.1" cy="180.0" r="4.35"/><circle cx="252.4" cy="177.7" r="4.35"/><circle cx="252.8" cy="177.0" r="4.35"/><circle cx="253.1" cy="179.1" r="4.35"/><circle cx="253.5" cy="164.3" r="4.35"/><circle cx="253.8" cy="161.2" r="4.35"/><circle cx="254.2" cy="168.7" r="4.35"/><circle cx="254.5" cy="161.1" r="4.35"/><circle cx="254.9" cy="173.0" r="4.35"/><circle cx="255.2" cy="157.2" r="4.35"/><circle cx="255.6" cy="165.4" r="4.35"/><circle cx="255.9" cy="161.1" r="4.35"/><circle cx="256.3" cy="172.3" r="4.35"/><circle cx="256.6" cy="161.4" r="4.35"/><circle cx="257.0" cy="165.3" r="4.35"/><circle cx="257.3" cy="169.0" r="4.35"/><circle cx="257.7" cy="164.7" r="4.35"/><circle cx="258.0" cy="156.8" r="4.35"/><circle cx="258.4" cy="160.2" r="4.35"/><circle cx="258.7" cy="156.4" r="4.35"/><circle cx="259.1" cy="169.4" r="4.35"/><circle cx="259.4" cy="168.7" r="4.35"/><circle cx="259.8" cy="157.6" r="4.35"/><circle cx="260.1" cy="172.9" r="4.35"/><circle cx="260.5" cy="173.0" r="4.35"/><circle cx="260.8" cy="155.5" r="4.35"/><circle cx="261.2" cy="164.1" r="4.35"/><circle cx="261.5" cy="175.0" r="4.35"/><circle cx="261.9" cy="178.0" r="4.35"/><circle cx="262.2" cy="166.6" r="4.35"/><circle cx="262.6" cy="175.0" r="4.35"/><circle cx="262.9" cy="180.0" r="4.35"/><circle cx="263.3" cy="177.7" r="4.35"/><circle cx="263.6" cy="172.2" r="4.35"/><circle cx="264.0" cy="181.5" r="4.35"/><circle cx="264.3" cy="179.0" r="4.35"/><circle cx="264.7" cy="180.3" r="4.35"/><circle cx="265.0" cy="180.9" r="4.35"/><circle cx="265.4" cy="168.9" r="4.35"/><circle cx="265.7" cy="163.1" r="4.35"/><circle cx="266.1" cy="161.7" r="4.35"/><circle cx="266.4" cy="166.7" r="4.35"/><circle cx="266.8" cy="174.1" r="4.35"/><circle cx="267.1" cy="170.6" r="4.35"/><circle cx="267.5" cy="182.3" r="4.35"/><circle cx="267.8" cy="168.6" r="4.35"/><circle cx="268.2" cy="164.6" r="4.35"/><circle cx="268.5" cy="164.6" r="4.35"/><circle cx="268.9" cy="167.6" r="4.35"/><circle cx="269.2" cy="160.0" r="4.35"/><circle cx="269.6" cy="167.0" r="4.35"/><circle cx="269.9" cy="181.5" r="4.35"/><circle cx="270.3" cy="160.9" r="4.35"/><circle cx="270.6" cy="164.4" r="4.35"/><circle cx="271.0" cy="175.0" r="4.35"/><circle cx="271.3" cy="179.5" r="4.35"/><circle cx="271.7" cy="165.7" r="4.35"/><circle cx="272.0" cy="165.4" r="4.35"/><circle cx="272.4" cy="168.5" r="4.35"/><circle cx="272.7" cy="161.5" r="4.35"/><circle cx="273.1" cy="179.3" r="4.35"/><circle cx="273.4" cy="171.4" r="4.35"/><circle cx="273.8" cy="158.4" r="4.35"/><circle cx="274.1" cy="161.4" r="4.35"/><circle cx="274.5" cy="169.7" r="4.35"/><circle cx="274.8" cy="178.0" r="4.35"/><circle cx="275.2" cy="158.8" r="4.35"/><circle cx="275.5" cy="166.2" r="4.35"/><circle cx="275.9" cy="170.6" r="4.35"/><circle cx="276.2" cy="173.7" r="4.35"/><circle cx="276.6" cy="157.6" r="4.35"/><circle cx="276.9" cy="155.3" r="4.35"/><circle cx="277.3" cy="154.8" r="4.35"/><circle cx="277.6" cy="154.9" r="4.35"/><circle cx="278.0" cy="155.5" r="4.35"/><circle cx="278.3" cy="167.9" r="4.35"/><circle cx="278.7" cy="153.5" r="4.35"/><circle cx="279.0" cy="163.3" r="4.35"/><circle cx="279.4" cy="158.6" r="4.35"/><circle cx="279.7" cy="161.9" r="4.35"/><circle cx="280.1" cy="161.3" r="4.35"/><circle cx="280.4" cy="155.5" r="4.35"/><circle cx="280.8" cy="148.1" r="4.35"/><circle cx="281.1" cy="144.9" r="4.35"/><circle cx="281.5" cy="142.5" r="4.35"/><circle cx="281.8" cy="136.8" r="4.35"/><circle cx="282.2" cy="127.6" r="4.35"/><circle cx="282.5" cy="126.9" r="4.35"/><circle cx="282.9" cy="121.7" r="4.35"/><circle cx="283.2" cy="110.7" r="4.35"/><circle cx="283.6" cy="105.9" r="4.35"/><circle cx="283.9" cy="99.9" r="4.35"/><circle cx="284.3" cy="91.1" r="4.35"/><circle cx="284.6" cy="88.1" r="4.35"/><circle cx="285.0" cy="85.4" r="4.35"/><circle cx="285.3" cy="89.7" r="4.35"/><circle cx="285.7" cy="95.6" r="4.35"/><circle cx="286.0" cy="104.5" r="4.35"/><circle cx="286.4" cy="114.8" r="4.35"/><circle cx="286.7" cy="118.2" r="4.35"/><circle cx="287.1" cy="130.6" r="4.35"/><circle cx="287.4" cy="128.0" r="4.35"/><circle cx="287.8" cy="138.2" r="4.35"/><circle cx="288.1" cy="138.6" r="4.35"/><circle cx="288.5" cy="150.2" r="4.35"/><circle cx="288.8" cy="152.8" r="4.35"/><circle cx="289.2" cy="152.4" r="4.35"/><circle cx="289.5" cy="148.6" r="4.35"/><circle cx="289.9" cy="154.3" r="4.35"/><circle cx="290.2" cy="164.6" r="4.35"/><circle cx="290.6" cy="153.0" r="4.35"/><circle cx="290.9" cy="162.2" r="4.35"/><circle cx="291.3" cy="171.2" r="4.35"/><circle cx="291.6" cy="156.1" r="4.35"/><circle cx="292.0" cy="165.4" r="4.35"/><circle cx="292.3" cy="175.4" r="4.35"/><circle cx="292.7" cy="170.6" r="4.35"/><circle cx="293.0" cy="177.2" r="4.35"/><circle cx="293.4" cy="172.2" r="4.35"/><circle cx="293.7" cy="174.3" r="4.35"/><circle cx="294.1" cy="178.3" r="4.35"/><circle cx="294.4" cy="170.6" r="4.35"/><circle cx="294.8" cy="171.9" r="4.35"/><circle cx="295.1" cy="181.7" r="4.35"/><circle cx="295.5" cy="172.8" r="4.35"/><circle cx="295.8" cy="164.8" r="4.35"/><circle cx="296.2" cy="178.0" r="4.35"/><circle cx="296.5" cy="170.9" r="4.35"/><circle cx="296.9" cy="177.9" r="4.35"/><circle cx="297.2" cy="164.8" r="4.35"/><circle cx="297.6" cy="166.2" r="4.35"/><circle cx="297.9" cy="173.6" r="4.35"/><circle cx="298.3" cy="170.9" r="4.35"/><circle cx="298.6" cy="166.9" r="4.35"/><circle cx="299.0" cy="177.3" r="4.35"/><circle cx="299.3" cy="178.9" r="4.35"/><circle cx="299.7" cy="177.1" r="4.35"/><circle cx="300.0" cy="177.2" r="4.35"/><circle cx="300.4" cy="185.3" r="4.35"/><circle cx="300.7" cy="178.4" r="4.35"/><circle cx="301.1" cy="173.4" r="4.35"/><circle cx="301.4" cy="178.7" r="4.35"/><circle cx="301.8" cy="172.4" r="4.35"/><circle cx="302.1" cy="182.4" r="4.35"/><circle cx="302.5" cy="183.5" r="4.35"/><circle cx="302.9" cy="179.2" r="4.35"/><circle cx="303.2" cy="172.2" r="4.35"/><circle cx="303.6" cy="183.0" r="4.35"/><circle cx="303.9" cy="170.9" r="4.35"/><circle cx="304.3" cy="168.2" r="4.35"/><circle cx="304.6" cy="179.8" r="4.35"/><circle cx="305.0" cy="167.8" r="4.35"/><circle cx="305.3" cy="182.6" r="4.35"/><circle cx="305.7" cy="185.1" r="4.35"/><circle cx="306.0" cy="176.2" r="4.35"/><circle cx="306.4" cy="172.1" r="4.35"/><circle cx="306.7" cy="171.7" r="4.35"/><circle cx="307.1" cy="166.2" r="4.35"/><circle cx="307.4" cy="183.1" r="4.35"/><circle cx="307.8" cy="169.5" r="4.35"/><circle cx="308.1" cy="166.9" r="4.35"/><circle cx="308.5" cy="178.4" r="4.35"/><circle cx="308.8" cy="175.0" r="4.35"/><circle cx="309.2" cy="172.0" r="4.35"/><circle cx="309.5" cy="174.1" r="4.35"/><circle cx="309.9" cy="186.2" r="4.35"/><circle cx="310.2" cy="185.1" r="4.35"/><circle cx="310.6" cy="177.7" r="4.35"/><circle cx="310.9" cy="183.0" r="4.35"/><circle cx="311.3" cy="177.6" r="4.35"/><circle cx="311.6" cy="167.6" r="4.35"/><circle cx="312.0" cy="169.2" r="4.35"/><circle cx="312.3" cy="179.1" r="4.35"/><circle cx="312.7" cy="187.0" r="4.35"/><circle cx="313.0" cy="180.4" r="4.35"/><circle cx="313.4" cy="183.3" r="4.35"/><circle cx="313.7" cy="169.8" r="4.35"/><circle cx="314.1" cy="175.4" r="4.35"/><circle cx="314.4" cy="181.8" r="4.35"/><circle cx="314.8" cy="178.7" r="4.35"/><circle cx="315.1" cy="184.0" r="4.35"/><circle cx="315.5" cy="169.7" r="4.35"/><circle cx="315.8" cy="170.1" r="4.35"/><circle cx="316.2" cy="172.0" r="4.35"/><circle cx="316.5" cy="176.2" r="4.35"/><circle cx="316.9" cy="172.6" r="4.35"/><circle cx="317.2" cy="173.6" r="4.35"/><circle cx="317.6" cy="182.0" r="4.35"/><circle cx="317.9" cy="177.2" r="4.35"/><circle cx="318.3" cy="182.6" r="4.35"/><circle cx="318.6" cy="172.2" r="4.35"/><circle cx="319.0" cy="176.8" r="4.35"/><circle cx="319.3" cy="173.6" r="4.35"/><circle cx="319.7" cy="170.0" r="4.35"/><circle cx="320.0" cy="169.6" r="4.35"/><circle cx="320.4" cy="166.3" r="4.35"/><circle cx="320.7" cy="165.1" r="4.35"/><circle cx="321.1" cy="165.8" r="4.35"/><circle cx="321.4" cy="165.4" r="4.35"/><circle cx="321.8" cy="155.6" r="4.35"/><circle cx="322.1" cy="154.5" r="4.35"/><circle cx="322.5" cy="144.8" r="4.35"/><circle cx="322.8" cy="146.5" r="4.35"/><circle cx="323.2" cy="139.8" r="4.35"/><circle cx="323.5" cy="139.8" r="4.35"/><circle cx="323.9" cy="146.0" r="4.35"/><circle cx="324.2" cy="146.0" r="4.35"/><circle cx="324.6" cy="149.2" r="4.35"/><circle cx="324.9" cy="156.0" r="4.35"/><circle cx="325.3" cy="161.8" r="4.35"/><circle cx="325.6" cy="163.2" r="4.35"/><circle cx="326.0" cy="165.9" r="4.35"/><circle cx="326.3" cy="172.1" r="4.35"/><circle cx="326.7" cy="170.2" r="4.35"/><circle cx="327.0" cy="169.3" r="4.35"/><circle cx="327.4" cy="173.4" r="4.35"/><circle cx="327.7" cy="168.9" r="4.35"/><circle cx="328.1" cy="175.1" r="4.35"/><circle cx="328.4" cy="183.8" r="4.35"/><circle cx="328.8" cy="173.8" r="4.35"/><circle cx="329.1" cy="173.9" r="4.35"/><circle cx="329.5" cy="179.1" r="4.35"/><circle cx="329.8" cy="175.4" r="4.35"/><circle cx="330.2" cy="170.1" r="4.35"/><circle cx="330.5" cy="183.2" r="4.35"/><circle cx="330.9" cy="182.6" r="4.35"/><circle cx="331.2" cy="169.5" r="4.35"/><circle cx="331.6" cy="174.4" r="4.35"/><circle cx="331.9" cy="183.3" r="4.35"/><circle cx="332.3" cy="177.4" r="4.35"/><circle cx="332.6" cy="177.9" r="4.35"/><circle cx="333.0" cy="173.4" r="4.35"/><circle cx="333.3" cy="187.7" r="4.35"/><circle cx="333.7" cy="188.7" r="4.35"/><circle cx="334.0" cy="169.4" r="4.35"/><circle cx="334.4" cy="170.3" r="4.35"/><circle cx="334.7" cy="170.6" r="4.35"/><circle cx="335.1" cy="177.6" r="4.35"/><circle cx="335.4" cy="183.0" r="4.35"/><circle cx="335.8" cy="187.9" r="4.35"/><circle cx="336.1" cy="179.5" r="4.35"/><circle cx="336.5" cy="174.6" r="4.35"/><circle cx="336.8" cy="177.7" r="4.35"/><circle cx="337.2" cy="182.3" r="4.35"/><circle cx="337.5" cy="170.2" r="4.35"/><circle cx="337.9" cy="184.8" r="4.35"/><circle cx="338.2" cy="173.8" r="4.35"/><circle cx="338.6" cy="170.0" r="4.35"/><circle cx="338.9" cy="181.0" r="4.35"/><circle cx="339.3" cy="181.5" r="4.35"/><circle cx="339.6" cy="169.6" r="4.35"/><circle cx="340.0" cy="176.7" r="4.35"/><circle cx="340.3" cy="177.6" r="4.35"/><circle cx="340.7" cy="170.4" r="4.35"/><circle cx="341.0" cy="175.8" r="4.35"/><circle cx="341.4" cy="169.8" r="4.35"/><circle cx="341.7" cy="169.6" r="4.35"/><circle cx="342.1" cy="177.0" r="4.35"/><circle cx="342.4" cy="180.6" r="4.35"/><circle cx="342.8" cy="171.3" r="4.35"/><circle cx="343.1" cy="181.3" r="4.35"/><circle cx="343.5" cy="176.5" r="4.35"/><circle cx="343.8" cy="180.0" r="4.35"/><circle cx="344.2" cy="187.3" r="4.35"/><circle cx="344.5" cy="184.8" r="4.35"/><circle cx="344.9" cy="179.0" r="4.35"/><circle cx="345.2" cy="181.5" r="4.35"/><circle cx="345.6" cy="186.8" r="4.35"/><circle cx="345.9" cy="169.9" r="4.35"/><circle cx="346.3" cy="182.2" r="4.35"/><circle cx="346.6" cy="188.6" r="4.35"/><circle cx="347.0" cy="179.1" r="4.35"/><circle cx="347.3" cy="189.4" r="4.35"/><circle cx="347.7" cy="180.9" r="4.35"/><circle cx="348.0" cy="185.1" r="4.35"/><circle cx="348.4" cy="184.7" r="4.35"/><circle cx="348.7" cy="187.9" r="4.35"/><circle cx="349.1" cy="173.4" r="4.35"/><circle cx="349.4" cy="187.8" r="4.35"/><circle cx="349.8" cy="174.6" r="4.35"/><circle cx="350.1" cy="184.1" r="4.35"/><circle cx="350.5" cy="169.8" r="4.35"/><circle cx="350.8" cy="180.3" r="4.35"/><circle cx="351.2" cy="179.1" r="4.35"/><circle cx="351.5" cy="170.8" r="4.35"/><circle cx="351.9" cy="189.1" r="4.35"/><circle cx="352.2" cy="178.3" r="4.35"/><circle cx="352.6" cy="183.3" r="4.35"/><circle cx="352.9" cy="175.8" r="4.35"/><circle cx="353.3" cy="178.9" r="4.35"/><circle cx="353.6" cy="181.6" r="4.35"/><circle cx="354.0" cy="191.8" r="4.35"/><circle cx="354.3" cy="188.9" r="4.35"/><circle cx="354.7" cy="173.9" r="4.35"/><circle cx="355.0" cy="182.7" r="4.35"/><circle cx="355.4" cy="176.0" r="4.35"/><circle cx="355.7" cy="173.8" r="4.35"/><circle cx="356.1" cy="169.9" r="4.35"/><circle cx="356.4" cy="183.8" r="4.35"/><circle cx="356.8" cy="168.5" r="4.35"/><circle cx="357.1" cy="172.7" r="4.35"/><circle cx="357.5" cy="186.9" r="4.35"/><circle cx="357.8" cy="169.2" r="4.35"/><circle cx="358.2" cy="191.3" r="4.35"/><circle cx="358.5" cy="177.0" r="4.35"/><circle cx="358.9" cy="183.3" r="4.35"/><circle cx="359.2" cy="172.2" r="4.35"/><circle cx="359.6" cy="180.6" r="4.35"/><circle cx="359.9" cy="179.9" r="4.35"/><circle cx="360.3" cy="187.3" r="4.35"/><circle cx="360.6" cy="171.0" r="4.35"/><circle cx="361.0" cy="190.1" r="4.35"/><circle cx="361.3" cy="187.1" r="4.35"/><circle cx="361.7" cy="184.6" r="4.35"/><circle cx="362.0" cy="168.3" r="4.35"/><circle cx="362.4" cy="185.2" r="4.35"/><circle cx="362.7" cy="167.9" r="4.35"/><circle cx="363.1" cy="183.2" r="4.35"/><circle cx="363.4" cy="186.9" r="4.35"/><circle cx="363.8" cy="176.9" r="4.35"/><circle cx="364.1" cy="182.2" r="4.35"/><circle cx="364.5" cy="175.8" r="4.35"/><circle cx="364.8" cy="169.3" r="4.35"/><circle cx="365.2" cy="185.3" r="4.35"/><circle cx="365.5" cy="178.0" r="4.35"/><circle cx="365.9" cy="177.7" r="4.35"/><circle cx="366.2" cy="179.7" r="4.35"/><circle cx="366.6" cy="167.7" r="4.35"/><circle cx="366.9" cy="172.9" r="4.35"/><circle cx="367.3" cy="172.3" r="4.35"/><circle cx="367.6" cy="182.7" r="4.35"/><circle cx="368.0" cy="183.4" r="4.35"/><circle cx="368.3" cy="186.3" r="4.35"/><circle cx="368.7" cy="183.3" r="4.35"/><circle cx="369.0" cy="174.9" r="4.35"/><circle cx="369.4" cy="168.6" r="4.35"/><circle cx="369.7" cy="168.1" r="4.35"/><circle cx="370.1" cy="186.9" r="4.35"/><circle cx="370.4" cy="180.2" r="4.35"/><circle cx="370.8" cy="187.9" r="4.35"/><circle cx="371.1" cy="188.5" r="4.35"/><circle cx="371.5" cy="166.9" r="4.35"/><circle cx="371.8" cy="180.6" r="4.35"/><circle cx="372.2" cy="180.0" r="4.35"/><circle cx="372.5" cy="166.6" r="4.35"/><circle cx="372.9" cy="180.2" r="4.35"/><circle cx="373.2" cy="180.1" r="4.35"/><circle cx="373.6" cy="183.3" r="4.35"/><circle cx="373.9" cy="176.2" r="4.35"/><circle cx="374.3" cy="175.0" r="4.35"/><circle cx="374.6" cy="173.4" r="4.35"/><circle cx="375.0" cy="188.1" r="4.35"/><circle cx="375.3" cy="172.2" r="4.35"/><circle cx="375.7" cy="168.3" r="4.35"/><circle cx="376.0" cy="174.8" r="4.35"/><circle cx="376.4" cy="179.3" r="4.35"/><circle cx="376.7" cy="183.7" r="4.35"/><circle cx="377.1" cy="187.5" r="4.35"/><circle cx="377.4" cy="177.7" r="4.35"/><circle cx="377.8" cy="166.3" r="4.35"/><circle cx="378.1" cy="185.6" r="4.35"/><circle cx="378.5" cy="176.6" r="4.35"/><circle cx="378.8" cy="171.7" r="4.35"/><circle cx="138.5" cy="93.0" r="4.35"/><circle cx="213.5" cy="96.0" r="4.35"/><circle cx="213.3" cy="100.5" r="4.35"/><circle cx="284.5" cy="65.0" r="4.35"/><circle cx="285.5" cy="67.5" r="4.35"/><circle cx="284.8" cy="74.0" r="4.35"/><circle cx="285.0" cy="80.5" r="4.35"/><circle cx="285.0" cy="88.0" r="4.35"/><circle cx="323.5" cy="134.5" r="4.35"/></g>
<polyline points="43.00,153.0 43.50,153.2 44.00,153.4 44.50,153.5 45.00,153.7 45.50,153.9 46.00,154.1 46.50,154.3 47.00,154.4 47.50,154.6 48.00,154.8 48.50,155.0 49.00,155.1 49.50,155.3 50.00,155.5 50.50,155.5 51.00,155.6 51.50,155.6 52.00,155.6 52.50,155.6 53.00,155.7 53.50,155.7 54.00,155.7 54.50,155.7 55.00,155.8 55.50,155.8 56.00,155.8 56.50,155.8 57.00,155.9 57.50,155.9 58.00,155.9 58.50,155.9 59.00,156.0 59.50,156.0 60.00,156.0 60.50,156.0 61.00,156.1 61.50,156.1 62.00,156.1 62.50,156.2 63.00,156.2 63.50,156.2 64.00,156.2 64.50,156.3 65.00,156.3 65.50,156.3 66.00,156.4 66.50,156.4 67.00,156.4 67.50,156.5 68.00,156.5 68.50,156.5 69.00,156.6 69.50,156.6 70.00,156.6 70.50,156.6 71.00,156.7 71.50,156.7 72.00,156.7 72.50,156.8 73.00,156.8 73.50,156.8 74.00,156.9 74.50,156.9 75.00,156.9 75.50,156.9 76.00,157.0 76.50,157.0 77.00,157.0 77.50,157.1 78.00,157.1 78.50,157.1 79.00,157.1 79.50,157.2 80.00,157.2 80.50,157.2 81.00,157.3 81.50,157.3 82.00,157.3 82.50,157.3 83.00,157.4 83.50,157.4 84.00,157.4 84.50,157.4 85.00,157.5 85.50,157.5 86.00,157.5 86.50,157.5 87.00,157.6 87.50,157.6 88.00,157.6 88.50,157.6 89.00,157.7 89.50,157.7 90.00,157.7 90.50,157.7 91.00,157.7 91.50,157.6 92.00,157.6 92.50,157.6 93.00,157.6 93.50,157.5 94.00,157.5 94.50,157.5 95.00,157.5 95.50,157.4 96.00,157.4 96.50,157.4 97.00,157.4 97.50,157.3 98.00,157.3 98.50,157.3 99.00,157.3 99.50,157.2 100.00,157.2 100.50,157.1 101.00,157.1 101.50,157.0 102.00,157.0 102.50,156.9 103.00,156.8 103.50,156.8 104.00,156.7 104.50,156.7 105.00,156.6 105.50,156.5 106.00,156.4 106.50,156.4 107.00,156.3 107.50,156.2 108.00,156.1 108.50,156.1 109.00,156.0 109.50,155.9 110.00,155.8 110.50,155.6 111.00,155.4 111.50,155.2 112.00,155.0 112.50,154.8 113.00,154.5 113.50,154.2 114.00,153.9 114.50,153.5 114.75,153.3 115.00,153.0 115.25,152.7 115.50,152.4 115.75,152.0 116.00,151.6 116.25,151.1 116.50,150.5 116.75,149.9 117.00,149.4 117.25,149.0 117.50,148.7 117.75,148.7 118.00,149.0 118.25,149.3 118.50,149.7 118.75,150.0 119.00,150.3 119.25,150.6 119.50,150.7 119.75,150.9 120.00,150.9 120.25,151.0 120.50,151.0 121.00,150.9 121.50,150.8 122.00,150.6 122.50,150.4 123.00,150.2 123.50,149.9 124.00,149.7 124.50,149.3 125.00,149.0 125.50,148.8 126.00,148.6 126.50,148.3 127.00,148.0 127.50,147.7 128.00,147.4 128.50,146.9 129.00,146.5 129.50,145.9 130.00,145.3 130.50,144.6 131.00,143.8 131.50,142.9 132.00,141.9 132.50,140.7 133.00,139.3 133.50,137.6 134.00,135.7 134.50,133.4 135.00,130.8 135.50,127.6 135.70,126.1 135.95,124.2 136.00,123.8 136.20,122.1 136.45,119.8 136.50,119.4 136.70,117.4 136.95,114.9 137.00,114.4 137.20,112.3 137.45,109.7 137.50,109.2 137.70,107.3 137.95,105.1 138.00,104.7 138.20,103.4 138.45,102.3 138.50,102.2 138.70,101.9 138.95,102.3 139.00,102.5 139.20,103.4 139.45,105.0 139.50,105.4 139.70,107.1 139.95,109.4 140.00,109.9 140.20,111.9 140.45,114.3 140.50,114.8 140.70,116.6 140.95,118.9 141.00,119.3 141.20,120.9 141.45,122.8 141.50,123.2 141.70,124.5 142.00,126.4 142.50,129.1 143.00,131.3 143.50,133.2 144.00,134.8 144.50,136.2 145.00,137.5 145.50,138.6 146.00,139.6 146.50,140.5 147.00,141.4 147.50,142.2 148.00,142.9 148.50,143.6 149.00,144.2 149.50,144.8 150.00,145.3 150.50,145.9 151.00,146.3 151.50,146.8 152.00,147.2 152.50,147.6 153.00,148.0 153.50,148.4 154.00,148.7 154.50,149.0 155.00,149.3 155.50,149.6 156.00,149.9 156.50,150.2 157.00,150.4 157.50,150.7 158.00,150.9 158.50,151.1 159.00,151.3 159.50,151.5 160.00,151.7 160.50,152.3 161.00,152.8 161.50,153.4 162.00,153.9 162.50,154.4 163.00,154.9 163.50,155.5 164.00,156.0 164.50,156.5 165.00,157.0 165.50,157.1 166.00,157.2 166.50,157.2 167.00,157.3 167.50,157.4 168.00,157.5 168.50,157.5 169.00,157.6 169.50,157.6 170.00,157.7 170.50,157.8 171.00,157.9 171.50,157.9 172.00,158.0 172.50,158.1 173.00,158.2 173.50,158.2 174.00,158.3 174.50,158.4 175.00,158.4 175.50,158.5 176.00,158.6 176.50,158.6 177.00,158.7 177.50,158.7 178.00,158.8 178.50,158.8 179.00,158.9 179.50,158.9 180.00,159.0 180.50,159.1 181.00,159.2 181.50,159.3 182.00,159.3 182.50,159.4 183.00,159.5 183.50,159.6 184.00,159.6 184.50,159.7 185.00,159.8 185.50,160.3 186.00,160.8 186.50,161.3 187.00,161.7 187.50,162.2 188.00,162.7 188.50,163.2 189.00,163.7 189.50,164.1 190.00,164.6 190.50,164.8 191.00,165.0 191.50,165.1 192.00,165.3 192.50,165.5 193.00,165.7 193.50,165.8 194.00,166.0 194.50,166.1 195.00,166.3 195.50,166.2 196.00,166.2 196.50,166.1 197.00,166.0 197.50,165.9 198.00,165.7 198.50,165.6 199.00,165.3 199.25,165.2 199.50,165.0 199.75,164.8 200.00,164.6 200.25,164.3 200.50,164.0 200.75,163.5 201.00,163.0 201.25,162.4 201.50,161.8 201.75,161.2 202.00,161.0 202.25,161.1 202.50,161.6 202.75,162.1 203.00,162.6 203.25,163.1 203.50,163.4 203.75,163.6 204.00,163.8 204.25,163.9 204.50,164.0 204.75,164.0 205.00,164.0 205.50,164.1 206.00,164.0 206.50,163.9 207.00,163.6 207.50,163.3 208.00,162.8 208.50,162.1 209.00,161.1 209.50,159.8 210.00,157.9 210.30,156.5 210.50,155.3 210.55,155.0 210.80,153.3 211.00,151.6 211.05,151.2 211.30,148.8 211.50,146.5 211.55,145.9 211.80,142.6 212.00,139.7 212.05,139.0 212.30,135.1 212.50,132.1 212.55,131.3 212.80,128.1 213.00,126.2 213.05,125.8 213.30,125.1 213.50,125.6 213.55,125.9 213.80,128.1 214.00,130.5 214.05,131.2 214.30,134.9 214.50,138.0 214.55,138.7 214.80,142.4 215.00,145.2 215.05,145.8 215.30,148.8 215.50,150.9 215.55,151.4 215.80,153.7 216.00,155.3 216.05,155.7 216.30,157.4 216.50,158.6 217.00,161.0 217.50,162.9 218.00,164.3 218.50,165.5 219.00,166.4 219.50,167.2 220.00,167.8 220.50,168.4 221.00,168.9 221.50,169.3 222.00,169.7 222.50,170.0 223.00,170.2 223.50,170.4 224.00,170.6 224.50,170.7 225.00,170.9 225.50,171.0 226.00,171.2 226.50,171.3 227.00,171.4 227.50,171.5 228.00,171.6 228.50,171.7 229.00,171.8 229.50,171.9 230.00,172.0 230.50,172.0 231.00,171.9 231.50,171.9 232.00,171.8 232.50,171.8 233.00,171.7 233.50,171.6 234.00,171.6 234.50,171.5 235.00,171.5 235.50,171.4 236.00,171.3 236.50,171.3 237.00,171.2 237.50,171.4 238.00,171.6 238.50,171.8 239.00,172.0 239.50,172.2 240.00,172.4 240.50,172.6 241.00,172.8 241.50,173.0 242.00,173.2 242.50,173.4 243.00,173.5 243.50,173.7 244.00,173.9 244.50,174.1 245.00,174.3 245.50,174.3 246.00,174.2 246.50,174.2 247.00,174.1 247.50,174.1 248.00,174.0 248.50,174.0 249.00,173.9 249.50,173.9 250.00,173.8 250.50,173.8 251.00,173.7 251.50,173.6 252.00,173.5 252.50,173.3 253.00,173.0 253.50,172.8 254.00,172.5 254.50,172.1 255.00,171.7 255.25,171.5 255.50,171.2 255.75,170.9 256.00,170.6 256.25,170.3 256.50,169.9 256.75,169.5 257.00,169.1 257.25,168.7 257.50,168.3 257.75,168.1 258.00,167.9 258.25,167.9 258.50,168.0 258.75,168.2 259.00,168.4 259.25,168.6 259.50,168.9 259.75,169.1 260.00,169.2 260.25,169.4 260.50,169.5 260.75,169.6 261.00,169.6 261.50,169.7 262.00,169.7 262.50,170.1 263.00,170.5 263.50,170.8 264.00,171.2 264.50,171.5 265.00,171.8 265.50,172.0 266.00,172.3 266.50,172.6 267.00,172.8 267.50,172.6 268.00,172.5 268.50,172.3 269.00,172.1 269.50,171.9 270.00,171.6 270.50,171.4 271.00,171.1 271.50,170.8 272.00,170.5 272.50,170.3 273.00,170.1 273.50,169.8 274.00,169.5 274.50,169.1 275.00,168.7 275.50,168.1 276.00,167.5 276.50,166.8 277.00,166.0 277.50,165.0 278.00,163.7 278.50,162.3 279.00,160.5 279.50,158.2 280.00,155.5 280.50,152.0 281.00,147.7 281.50,142.2 281.80,138.3 282.00,135.4 282.05,134.6 282.30,130.6 282.50,127.0 282.55,126.1 282.80,121.3 283.00,117.2 283.05,116.2 283.30,110.9 283.50,106.6 283.55,105.6 283.80,100.5 284.00,96.9 284.05,96.1 284.30,92.6 284.50,90.7 284.55,90.3 284.80,89.6 285.00,90.1 285.05,90.4 285.30,92.7 285.50,95.5 285.55,96.3 285.80,100.8 286.00,104.8 286.05,105.9 286.30,111.3 286.50,115.6 286.55,116.6 286.80,121.8 287.00,125.7 287.05,126.7 287.30,131.2 287.50,134.5 287.55,135.3 287.80,139.1 288.00,141.8 288.50,147.6 289.00,152.3 289.50,156.0 290.00,159.0 290.50,161.5 291.00,163.5 291.50,165.2 292.00,166.6 292.50,167.7 293.00,168.8 293.50,169.6 294.00,170.4 294.50,171.0 295.00,171.6 295.50,172.1 296.00,172.6 296.50,173.0 297.00,173.4 297.50,173.7 298.00,174.0 298.50,174.3 299.00,174.5 299.50,174.8 300.00,175.0 300.50,175.2 301.00,175.5 301.50,175.7 302.00,175.9 302.50,176.1 303.00,176.3 303.50,176.5 304.00,176.7 304.50,176.8 305.00,177.0 305.50,176.9 306.00,176.8 306.50,176.6 307.00,176.5 307.50,176.4 308.00,176.2 308.50,176.1 309.00,175.9 309.50,175.8 310.00,175.6 310.50,175.8 311.00,176.1 311.50,176.3 312.00,176.6 312.50,176.8 313.00,177.0 313.50,177.0 314.00,176.9 314.50,176.9 315.00,176.8 315.50,176.8 316.00,176.7 316.50,176.5 317.00,176.4 317.50,176.2 318.00,175.9 318.50,175.5 319.00,174.9 319.50,173.9 320.00,172.1 320.40,169.9 320.50,169.3 320.65,168.1 320.90,166.0 321.00,165.0 321.15,163.4 321.40,160.5 321.50,159.3 321.65,157.4 321.90,154.1 322.00,152.8 322.15,150.9 322.40,147.8 322.50,146.7 322.65,145.2 322.90,143.1 323.00,142.5 323.15,141.8 323.40,141.4 323.50,141.5 323.65,141.9 323.90,143.2 324.00,143.9 324.15,145.3 324.40,147.9 324.50,149.1 324.65,151.0 324.90,154.3 325.00,155.6 325.15,157.6 325.40,160.8 325.50,162.0 325.65,163.7 325.90,166.2 326.00,167.2 326.15,168.4 326.40,170.3 326.50,170.9 327.00,173.3 327.50,174.8 328.00,175.7 328.50,176.3 329.00,176.7 329.50,177.0 330.00,177.2 330.50,177.4 331.00,177.6 331.50,177.7 332.00,177.9 332.50,178.0 333.00,178.1 333.50,178.2 334.00,178.3 334.50,178.3 335.00,178.4 335.50,178.6 336.00,178.7 336.50,178.9 337.00,179.0 337.50,179.1 338.00,179.3 338.50,179.4 339.00,179.5 339.50,179.7 340.00,179.8 340.50,179.8 341.00,179.7 341.50,179.7 342.00,179.6 342.50,179.6 343.00,179.5 343.50,179.5 344.00,179.4 344.50,179.4 345.00,179.3 345.50,179.3 346.00,179.2 346.50,179.2 347.00,179.1 347.50,179.1 348.00,179.0 348.50,179.0 349.00,179.0 349.50,179.0 350.00,179.0 350.50,179.0 351.00,179.0 351.50,179.0 352.00,179.0 352.50,179.0 353.00,179.0 353.50,179.0 354.00,179.0 354.50,179.0 355.00,179.0 355.50,178.7 356.00,178.5 356.50,178.2 357.00,177.9 357.50,177.7 358.00,177.4 358.50,177.1 359.00,176.8 359.50,176.6 360.00,176.3 360.50,176.5 361.00,176.7 361.50,176.9 362.00,177.1 362.50,177.4 363.00,177.6 363.50,177.8 364.00,178.0 364.50,178.2 365.00,178.4 365.50,178.3 366.00,178.2 366.50,178.1 367.00,178.0 367.50,177.9 368.00,177.8 368.50,177.7 369.00,177.6 369.50,177.5 370.00,177.4 370.50,177.3 371.00,177.2 371.50,177.1 372.00,177.0 372.50,177.0 373.00,176.9 373.50,176.9 374.00,176.8 374.50,176.8 375.00,176.7 375.50,176.7 376.00,176.6 376.50,176.6 377.00,176.5 377.50,176.5 378.00,176.4 378.50,176.4 379.00,176.3 379.50,176.3" fill="none" stroke="#e80000" stroke-width="2" stroke-linejoin="round"/>
<polyline points="451.5,49.1 452.3,49.7 453.1,48.5 453.9,49.6 454.7,48.9 455.5,48.9 456.3,50.1 457.1,49.1 457.9,49.0 458.7,49.4 459.5,49.7 460.3,49.0 461.1,49.4 461.9,48.5 462.7,48.9 463.5,48.8 464.3,48.4 465.1,48.3 465.9,48.2 466.7,49.0 467.5,49.0 468.3,48.9 469.1,49.2 469.9,48.4 470.7,49.1 471.5,49.3 472.3,49.6 473.1,48.7 473.9,48.9 474.7,48.0 475.5,48.9 476.3,48.0 477.1,48.4 477.9,49.8 478.7,48.0 479.5,49.6 480.3,49.4 481.1,49.0 481.9,49.5 482.7,49.5 483.5,49.8 484.3,49.1 485.1,48.9 485.9,48.9 486.7,48.7 487.5,49.2 488.3,48.8 489.1,49.8 489.9,48.2 490.7,48.7 491.5,48.7 491.9,48.1 492.3,50.3 492.5,47.9 493.1,49.1 493.7,48.9 493.9,50.1 494.3,48.0 494.7,49.5 494.9,48.4 495.5,48.2 496.1,47.2 496.3,47.7 496.7,46.1 497.1,46.2 497.3,46.3 497.9,46.8 498.5,44.8 498.7,47.1 499.1,47.3 499.5,47.1 499.7,47.8 500.3,48.1 500.9,49.8 501.1,49.1 501.5,49.0 501.9,49.1 502.1,49.2 502.7,49.2 503.3,48.9 503.5,50.5 503.9,48.3 504.3,47.4 505.1,49.3 505.9,49.3 506.7,49.6 507.5,49.3 508.3,49.3 509.1,49.6 509.9,49.9 510.7,49.1 511.5,49.2 512.3,50.5 513.1,49.7 513.9,48.9 514.7,50.7 515.5,49.8 516.3,49.1 517.1,48.8 517.9,49.6 518.7,49.0 519.5,48.9 520.3,48.7 521.1,49.2 521.9,50.1 522.7,49.2 523.4,48.7 523.5,49.8 523.8,49.5 524.2,49.9 524.3,50.1 524.6,49.3 525.0,49.2 525.1,49.2 525.4,48.3 525.8,48.7 525.9,48.9 526.2,47.6 526.6,46.5 526.7,46.2 527.0,45.4 527.4,45.1 527.5,45.3 527.8,45.3 528.2,46.4 528.3,46.0 528.6,47.8 529.0,48.4 529.1,47.9 529.4,47.7 529.8,49.3 529.9,49.9 530.2,49.0 530.6,49.2 530.7,49.2 531.0,49.9 531.4,49.0 531.5,50.1 532.3,49.4 533.1,50.0 533.9,49.6 534.7,49.4 535.5,48.7 536.3,49.2 537.1,49.4 537.9,49.9 538.7,49.7 539.5,49.2 540.0,49.8 540.3,50.1 540.4,49.5 540.8,49.3 541.1,49.4 541.2,50.0 541.6,49.8 541.9,49.0 542.0,49.6 542.4,49.0 542.7,48.7 542.8,49.7 543.2,49.2 543.5,48.2 543.6,48.5 544.0,48.7 544.3,48.1 544.4,48.4 544.8,49.1 545.1,48.0 545.2,49.2 545.6,49.7 545.9,49.7 546.0,48.7 546.4,49.7 546.7,49.1 546.8,49.9 547.2,50.0 547.5,49.8 547.6,49.2 548.0,49.3 548.3,50.1 549.1,49.1 549.4,49.9 549.9,49.9 550.0,49.5 550.7,50.9 550.7,49.7 551.3,50.7 551.5,48.4 552.0,48.1 552.3,49.7 552.6,49.3 553.1,48.2 553.2,48.1 553.9,46.0 553.9,46.6 554.5,45.1 554.7,45.2 555.2,45.1 555.5,44.3 555.8,44.4 556.3,44.1 556.4,44.4 557.1,45.8 557.1,45.6 557.7,47.7 557.9,46.9 558.4,49.2 558.7,48.1 559.0,49.5 559.5,48.9 559.6,50.3 560.3,49.7 560.3,49.8 560.9,50.1 561.1,49.4 561.6,49.1 561.9,48.6 562.2,50.4 562.7,49.4 563.5,49.4 564.3,49.7 565.1,50.8 565.9,48.8 566.7,49.9 567.3,49.5 567.5,50.1 567.7,48.8 568.1,49.5 568.3,50.2 568.5,50.6 568.9,50.5 569.1,49.0 569.3,49.4 569.7,48.9 569.9,47.9 570.1,47.5 570.5,48.0 570.7,47.4 570.9,46.9 571.3,47.5 571.5,46.3 571.7,47.3 572.1,47.6 572.3,47.9 572.5,48.6 572.9,49.1 573.1,49.4 573.3,49.5 573.7,50.7 573.9,49.5 574.1,50.3 574.5,50.1 574.7,49.6 574.9,50.2 575.3,49.3 575.5,50.5 576.3,49.4 577.1,49.6 577.9,50.0 578.7,50.3 579.5,50.3 580.3,50.3 581.1,49.7 581.9,49.3 582.7,50.2 583.5,50.0 584.3,49.4 584.6,50.4 585.1,50.0 585.9,49.4 586.7,50.1 587.4,49.2 587.5,49.4 588.3,50.1 589.1,49.0 589.9,49.9 590.2,49.2 590.7,50.3 591.5,49.5 592.3,50.0 593.0,49.1 593.1,49.7 593.9,50.4 594.7,50.1 595.5,48.8 595.8,50.3 596.3,50.3 597.1,49.6 597.9,50.5 598.6,49.1 598.7,49.6 599.5,50.2 600.3,50.2 601.1,50.1 601.4,48.8 601.9,48.3 602.7,49.4 603.5,48.3 604.2,48.9 604.3,48.2 605.1,49.4 605.9,49.1 606.7,48.8 607.0,48.4 607.5,48.4 608.3,48.1 609.1,48.3 609.8,48.2 609.9,48.3 610.7,47.7 611.5,48.9 612.3,48.0 612.6,48.6 613.1,48.6 613.9,47.4 614.7,47.0 615.4,48.7 615.5,47.9 616.3,48.2 617.1,48.2 617.9,48.5 618.2,47.8 618.7,48.5 619.5,48.5 620.3,48.9 621.0,47.8 621.1,49.5 621.9,49.4 622.7,48.4 623.5,49.1 623.8,49.5 624.3,49.9 625.1,49.7 625.9,50.6 626.6,49.9 626.7,49.3 627.5,49.6 628.3,50.4 629.1,49.7 629.4,50.5 629.9,50.6 630.7,50.4 631.5,50.7 632.2,50.1 632.3,50.1 633.1,49.8 633.9,49.8 634.7,49.3 635.0,49.9 635.5,49.6 636.3,49.4 637.1,50.3 637.8,50.5 637.9,50.0 638.7,51.0 639.5,50.8 640.1,50.8 640.2,49.9 640.3,49.3 640.3,50.4 640.5,50.0 640.6,49.5 640.7,47.8 640.8,45.4 640.9,40.4 641.1,36.1 641.1,33.7 641.2,30.5 641.2,30.6 641.3,30.9 641.3,29.3 641.4,31.8 641.5,31.8 641.5,34.0 641.6,35.2 641.7,36.7 641.7,36.4 641.8,36.3 641.8,35.5 641.9,32.4 641.9,29.3 642.0,26.7 642.0,25.6 642.1,23.2 642.1,17.3 642.1,17.0 642.2,13.8 642.2,13.0 642.3,12.6 642.3,11.3 642.4,11.7 642.4,13.2 642.4,14.9 642.5,17.0 642.5,18.4 642.5,19.6 642.6,24.3 642.7,28.1 642.7,30.0 642.7,31.6 642.8,31.9 642.8,32.3 642.9,33.8 643.0,32.8 643.0,32.4 643.1,31.8 643.1,31.2 643.2,31.6 643.3,32.2 643.3,31.7 643.4,34.3 643.4,37.5 643.5,38.5 643.6,41.5 643.7,45.0 643.8,47.5 643.9,50.1 644.0,50.5 644.2,50.0 644.3,50.7 644.3,49.5 644.4,49.9 645.1,50.8 645.9,50.3 646.7,49.7 647.5,50.5 648.3,50.5 649.1,51.0 649.9,50.8 650.7,50.2 651.5,50.1 652.3,50.3 653.1,50.2 653.9,51.1 654.7,51.2 655.5,51.1 656.3,50.6 657.1,50.2 657.9,50.9 658.7,50.2 659.5,50.5 660.3,49.5 661.1,50.2 661.9,51.2 662.7,49.8 663.5,49.6 664.3,50.3 665.1,51.3 665.9,51.2 666.7,50.2 667.5,50.2 668.3,50.4 669.1,49.9 669.9,50.5 670.7,50.3 671.5,49.6 672.3,50.1 673.1,50.3 673.9,50.0 674.7,49.9 675.5,51.0 676.3,51.5 677.1,50.3 677.9,50.3 678.7,50.8 679.5,50.4 680.3,50.1 681.1,51.3 681.9,49.9 682.7,50.1 683.5,50.2 684.3,50.1 685.1,50.4 685.9,50.9 686.7,51.3 687.5,50.9 688.3,50.6 689.1,49.9 689.9,50.5 690.7,50.1 691.5,50.5 692.3,51.1 693.1,50.7 693.9,50.5 694.7,50.2 695.5,50.6 696.3,50.7 697.1,50.1 697.9,50.3 698.7,51.1 699.5,49.7 700.3,50.4 701.1,50.0 701.9,51.5 702.7,51.0 703.5,50.9 704.3,50.9 705.1,50.8 705.9,50.8 706.7,49.8 707.5,50.8 708.3,51.0 709.1,49.9 709.9,51.2 710.7,51.1 711.5,49.9 712.3,50.5 713.1,50.6 713.9,50.4 714.7,51.0 715.5,50.0 716.3,50.6 717.1,50.9 717.9,51.2 718.7,50.8 719.5,50.6 720.3,51.2 721.1,49.7 721.9,51.3 722.7,50.6 723.5,50.1 724.3,50.6 725.1,49.8 725.9,49.7 726.7,50.6 727.5,50.4 728.3,51.2 729.1,50.3 729.9,50.1 730.7,50.3 731.5,51.8 732.3,50.9 733.1,50.5 733.9,50.3 734.7,50.3 735.5,50.8 736.3,51.1 737.1,51.5 737.9,51.5 738.7,51.0 739.5,50.5 740.3,50.4 741.1,49.6 741.9,50.4 742.7,51.2 743.5,50.7 744.3,51.1 745.1,50.2 745.9,51.4 746.7,51.1 747.5,51.0 748.3,51.2 749.1,49.7 749.9,50.7 750.7,50.5 750.8,52.0 751.3,50.9 751.5,50.7 751.8,51.4 752.2,50.4 752.3,51.7 752.7,50.5 753.1,50.8 753.2,50.2 753.7,50.9 753.9,49.1 754.2,50.5 754.6,49.2 754.7,49.7 755.1,48.7 755.5,49.3 755.6,49.3 756.1,49.7 756.3,49.7 756.6,50.1 757.0,50.7 757.1,50.0 757.5,49.9 757.9,50.0 758.0,51.2 758.5,50.7 758.7,51.5 759.0,51.0 759.4,50.5 759.5,51.5 759.9,52.1 760.3,50.9 760.4,50.5 761.1,50.6 761.9,51.5 762.7,50.7 763.5,50.8 764.3,51.4 765.1,51.1 765.9,51.1 766.7,50.8 767.5,50.7 768.3,51.2 769.1,51.2 769.9,51.4 770.7,50.8 771.5,51.3 772.3,51.4 773.1,51.2 773.9,51.4 774.7,51.7 775.5,51.2 776.3,51.2 777.1,50.6 777.9,51.3 778.7,51.1 779.5,51.0 780.3,50.7 781.1,51.5 781.9,52.6 782.7,51.4 783.5,51.2 784.3,51.4 784.5,50.9" fill="none" stroke="#000" stroke-width="1.9" stroke-linejoin="round"/>
<polyline points="451.5,99.0 452.5,99.0 453.5,99.0 454.5,99.0 455.5,99.0 456.5,99.0 457.5,99.0 458.5,99.0 459.5,99.0 460.5,99.0 461.5,99.0 462.5,99.0 463.5,99.0 464.5,99.0 465.5,99.0 466.5,99.0 467.5,99.0 468.5,99.0 469.5,99.0 470.5,99.0 471.5,99.0 472.5,99.0 473.5,99.0 474.5,99.0 475.5,99.0 476.5,99.0 477.5,99.0 478.5,99.0 479.5,99.0 480.5,99.0 481.5,99.0 482.5,99.0 483.5,99.0 484.5,99.0 485.5,99.0 486.5,99.0 487.5,99.0 488.5,99.0 489.5,99.0 490.5,99.0 491.5,99.0 492.5,99.0 493.5,99.0 494.5,99.0 495.5,99.0 496.5,99.0 497.5,99.0 498.5,99.0 499.5,99.0 500.5,99.0 501.5,99.0 502.5,99.0 503.5,99.0 504.5,99.0 505.5,99.0 506.5,99.0 507.5,99.0 508.5,99.0 509.5,99.0 510.5,99.0 511.5,99.0 512.5,99.0 513.5,99.0 514.5,99.0 515.5,99.0 516.5,99.0 517.5,99.0 518.5,99.0 519.5,99.0 520.5,99.0 521.2,99.0 521.5,99.0 521.8,99.0 522.4,99.0 522.5,99.0 523.0,98.9 523.5,98.9 523.6,98.8 524.2,98.6 524.5,98.4 524.8,98.2 525.4,97.5 525.5,97.4 525.5,97.3 525.7,97.2 525.8,96.9 525.9,96.2 526.0,95.2 526.0,94.7 526.1,91.7 526.3,86.3 526.4,78.5 526.5,70.4 526.5,69.6 526.5,66.9 526.6,63.8 526.6,62.3 526.7,60.7 526.8,59.3 526.8,59.5 526.9,61.7 526.9,63.5 527.0,68.0 527.0,70.4 527.1,74.6 527.1,76.3 527.2,77.7 527.2,78.2 527.3,78.3 527.4,77.0 527.4,75.6 527.5,71.9 527.5,70.3 527.5,69.8 527.6,65.8 527.6,64.1 527.7,62.1 527.8,61.9 527.8,62.5 527.8,63.3 527.9,64.7 528.0,69.0 528.0,71.6 528.1,79.9 528.2,87.1 528.4,92.1 528.4,93.6 528.5,95.0 528.5,95.4 528.6,96.4 528.7,97.0 528.8,97.3 529.0,97.5 529.0,97.5 529.5,98.1 529.6,98.2 530.2,98.6 530.5,98.7 530.8,98.8 531.4,98.9 531.5,99.0 532.0,99.0 532.5,99.0 532.6,99.0 533.2,99.0 533.5,99.0 534.5,99.0 535.5,99.0 536.5,99.0 537.5,99.0 538.5,99.0 539.5,99.0 540.5,99.0 541.5,99.0 542.5,99.0 543.5,99.0 544.5,99.0 545.5,99.0 546.5,99.0 547.5,99.0 548.5,99.0 549.5,99.0 550.5,99.0 551.5,99.0 552.5,99.0 553.5,99.0 554.5,99.0 555.5,99.0 556.5,99.0 557.5,99.0 558.5,99.0 559.5,99.0 560.5,99.0 561.5,99.0 562.5,99.0 563.5,99.0 564.5,99.0 565.5,99.0 566.5,99.0 567.5,99.0 568.5,99.0 569.5,99.0 570.5,99.0 571.5,99.0 572.5,99.0 573.5,99.0 574.5,99.0 575.5,99.0 576.5,99.0 577.5,99.0 578.5,99.0 579.5,99.0 580.5,99.0 581.5,99.0 582.5,99.0 583.5,99.0 584.5,99.0 585.5,99.0 586.5,99.0 587.5,99.0 588.5,99.0 589.5,99.0 590.5,99.0 591.5,99.0 592.5,99.0 593.5,99.0 594.5,99.0 595.5,99.0 596.5,99.0 597.5,99.0 598.5,99.0 599.5,99.0 600.5,99.0 601.5,99.0 602.5,99.0 602.6,99.0 602.9,99.0 603.2,99.0 603.5,99.0 603.6,99.0 603.9,98.9 604.2,98.7 604.5,98.3 604.5,98.3 604.8,97.8 605.2,97.2 605.5,96.7 605.5,96.7 605.8,96.5 606.1,96.7 606.4,97.2 606.5,97.3 606.8,97.8 607.1,98.3 607.4,98.7 607.5,98.7 607.7,98.9 608.0,99.0 608.4,99.0 608.5,99.0 608.7,99.0 609.0,99.0 609.5,99.0 610.5,99.0 611.1,99.0 611.5,99.0 611.5,99.0 611.8,99.0 612.2,98.9 612.5,98.7 612.5,98.6 612.9,98.1 613.3,97.2 613.5,96.3 613.6,95.8 614.0,94.3 614.3,93.0 614.5,92.7 614.7,92.5 615.1,93.0 615.4,94.3 615.5,94.6 615.8,95.8 616.1,97.2 616.5,98.1 616.9,98.6 617.2,98.9 617.5,98.9 617.6,99.0 617.9,99.0 618.3,99.0 618.5,99.0 619.5,99.0 620.5,99.0 621.5,99.0 622.5,99.0 623.5,99.0 624.5,99.0 625.5,99.0 626.5,99.0 627.5,99.0 628.5,99.0 629.5,99.0 630.5,99.0 631.5,99.0 632.5,99.0 633.5,99.0 634.5,99.0 635.5,99.0 636.5,99.0 637.5,99.0 638.5,99.0 639.5,99.0 639.8,99.0 640.1,99.0 640.4,99.0 640.5,99.0 640.8,99.0 641.1,98.9 641.4,98.8 641.5,98.7 641.7,98.6 642.0,98.3 642.4,97.9 642.5,97.8 642.7,97.6 643.0,97.5 643.3,97.6 643.5,97.8 643.6,97.9 644.0,98.3 644.3,98.6 644.5,98.7 644.6,98.8 644.9,98.9 645.2,99.0 645.5,99.0 645.6,99.0 645.9,99.0 646.2,99.0 646.5,99.0 647.5,99.0 648.5,99.0 649.5,99.0 650.5,99.0 651.5,99.0 652.5,99.0 653.5,99.0 654.5,99.0 655.5,99.0 656.5,99.0 656.9,99.0 657.3,99.0 657.5,99.0 657.6,99.0 658.0,98.9 658.3,98.8 658.5,98.7 658.7,98.5 659.1,98.0 659.4,97.3 659.5,97.1 659.8,96.5 660.1,95.8 660.5,95.5 660.9,95.8 661.2,96.5 661.5,97.1 661.6,97.3 661.9,98.0 662.3,98.5 662.5,98.7 662.7,98.8 663.0,98.9 663.4,99.0 663.5,99.0 663.7,99.0 664.1,99.0 664.5,99.0 665.5,99.0 666.5,99.0 667.5,99.0 668.5,99.0 669.5,99.0 670.5,99.0 671.5,99.0 672.5,99.0 673.5,99.0 674.5,99.0 675.5,99.0 676.5,99.0 677.5,99.0 678.5,99.0 679.5,99.0 680.5,99.0 681.5,99.0 682.5,99.0 682.9,99.0 683.3,99.0 683.5,99.0 683.6,99.0 684.0,98.9 684.3,98.8 684.5,98.7 684.7,98.6 685.1,98.2 685.4,97.5 685.5,97.4 685.8,96.8 686.1,96.2 686.5,96.0 686.9,96.2 687.2,96.8 687.5,97.4 687.6,97.5 687.9,98.2 688.3,98.6 688.5,98.7 688.7,98.8 689.0,98.9 689.4,99.0 689.5,99.0 689.7,99.0 690.1,99.0 690.5,99.0 691.5,99.0 692.5,99.0 693.5,99.0 694.5,99.0 695.5,99.0 696.5,99.0 697.5,99.0 698.5,99.0 699.5,99.0 700.5,99.0 701.5,99.0 702.5,99.0 703.5,99.0 704.5,99.0 705.5,99.0 706.5,99.0 707.5,99.0 708.5,99.0 709.5,99.0 710.5,99.0 711.5,99.0 712.5,99.0 713.5,99.0 714.5,99.0 715.5,99.0 716.5,99.0 717.5,99.0 718.5,99.0 719.5,99.0 720.5,99.0 721.5,99.0 722.5,99.0 723.5,99.0 724.5,99.0 725.5,99.0 726.5,99.0 727.5,99.0 728.5,99.0 729.5,99.0 730.5,99.0 731.5,99.0 732.5,99.0 733.5,99.0 734.5,99.0 735.5,99.0 736.5,99.0 737.5,99.0 738.5,99.0 739.5,99.0 740.5,99.0 741.5,99.0 742.5,99.0 743.5,99.0 744.5,99.0 745.5,99.0 746.5,99.0 747.5,99.0 748.5,99.0 749.5,99.0 750.5,99.0 751.5,99.0 752.5,99.0 753.5,99.0 754.5,99.0 755.5,99.0 756.5,99.0 757.5,99.0 758.5,99.0 759.5,99.0 760.5,99.0 761.5,99.0 762.0,99.0" fill="none" stroke="#0000e6" stroke-width="2.2" stroke-linejoin="round"/>
<polyline points="451.5,147.8 452.5,147.8 453.5,147.8 454.5,147.8 455.5,147.8 456.5,147.8 457.5,147.8 458.5,147.8 459.5,147.8 460.5,147.8 461.5,147.8 462.5,147.8 463.5,147.8 464.5,147.8 465.5,147.8 466.5,147.8 467.5,147.8 468.5,147.8 469.5,147.8 470.5,147.8 471.5,147.8 472.5,147.8 473.5,147.8 474.5,147.8 475.5,147.8 476.5,147.8 477.5,147.8 478.5,147.8 479.5,147.8 480.5,147.8 481.5,147.8 482.5,147.8 483.5,147.8 484.5,147.8 485.5,147.8 486.5,147.8 487.5,147.8 488.5,147.8 489.5,147.8 490.5,147.8 491.5,147.8 492.5,147.8 493.5,147.8 494.5,147.8 495.5,147.8 496.5,147.8 497.5,147.8 498.5,147.8 499.5,147.8 500.5,147.8 501.5,147.8 502.5,147.8 503.5,147.8 504.5,147.8 505.5,147.8 506.5,147.8 507.5,147.8 508.5,147.8 509.5,147.8 510.5,147.8 511.5,147.8 512.5,147.8 513.5,147.8 514.5,147.8 515.5,147.8 516.5,147.8 517.5,147.8 518.5,147.8 519.5,147.8 520.5,147.8 521.5,147.8 522.5,147.8 523.5,147.8 524.5,147.8 525.5,147.8 526.5,147.8 527.5,147.8 528.5,147.8 529.5,147.8 530.5,147.8 531.5,147.8 532.5,147.8 533.5,147.8 534.5,147.8 535.5,147.8 536.5,147.8 537.5,147.8 538.5,147.8 539.5,147.8 540.5,147.8 541.5,147.8 542.5,147.8 543.5,147.8 544.5,147.8 545.5,147.8 546.5,147.8 547.5,147.8 548.5,147.8 549.5,147.8 550.5,147.8 551.5,147.8 552.5,147.8 553.5,147.8 554.5,147.8 555.5,147.8 556.5,147.8 557.5,147.8 558.5,147.8 559.5,147.8 560.5,147.8 561.5,147.8 562.5,147.8 563.5,147.8 564.5,147.8 565.5,147.8 566.5,147.8 567.5,147.8 568.5,147.8 569.5,147.8 570.5,147.8 571.5,147.8 572.5,147.8 573.5,147.8 574.5,147.8 575.5,147.8 576.5,147.8 577.5,147.8 578.5,147.8 579.5,147.8 580.5,147.8 581.5,147.8 582.5,147.8 583.5,147.8 584.5,147.8 585.5,147.8 586.5,147.8 587.5,147.8 588.5,147.8 589.5,147.8 590.5,147.8 591.5,147.8 592.5,147.8 593.5,147.8 594.5,147.8 595.5,147.8 596.5,147.8 597.5,147.8 598.5,147.8 599.5,147.8 600.5,147.8 601.5,147.8 602.5,147.8 603.5,147.8 604.3,147.8 604.5,147.8 604.9,147.8 605.4,147.8 605.5,147.8 606.0,147.7 606.5,147.6 606.5,147.6 607.1,147.3 607.5,146.9 607.7,146.7 608.2,145.8 608.2,145.8 608.4,145.5 608.5,145.2 608.5,145.1 608.6,144.5 608.7,143.0 608.8,142.0 608.9,140.0 609.0,134.7 609.1,127.2 609.2,118.5 609.2,115.9 609.3,111.4 609.3,111.0 609.4,109.9 609.5,108.5 609.5,108.7 609.5,108.8 609.6,110.8 609.6,112.5 609.7,116.8 609.7,119.1 609.8,123.2 609.9,124.8 609.9,126.2 609.9,126.6 610.0,126.8 610.0,125.5 610.1,124.2 610.2,120.6 610.2,118.6 610.3,114.7 610.3,113.1 610.4,111.2 610.5,111.0 610.5,111.1 610.5,111.6 610.5,112.4 610.6,113.8 610.6,118.0 610.7,120.5 610.8,128.5 610.9,135.6 611.0,139.5 611.0,140.5 611.2,143.3 611.3,144.7 611.4,145.4 611.5,145.6 611.5,145.7 611.6,145.8 611.6,146.0 612.1,146.7 612.5,147.1 612.7,147.3 613.3,147.6 613.5,147.7 613.8,147.7 614.4,147.8 614.5,147.8 614.9,147.8 615.5,147.8 616.5,147.8 617.5,147.8 618.5,147.8 619.5,147.8 620.5,147.8 621.5,147.8 622.5,147.8 623.5,147.8 624.5,147.8 625.5,147.8 626.5,147.8 627.5,147.8 628.5,147.8 629.5,147.8 630.5,147.8 631.5,147.8 632.5,147.8 633.5,147.8 634.5,147.8 635.5,147.8 636.5,147.8 637.5,147.8 638.4,147.8 638.5,147.8 639.0,147.8 639.5,147.8 639.5,147.8 640.1,147.7 640.5,147.7 640.6,147.6 641.2,147.4 641.5,147.2 641.8,147.0 642.3,146.3 642.4,146.3 642.5,146.1 642.5,146.1 642.6,145.9 642.7,145.6 642.8,144.9 642.9,144.5 643.0,143.6 643.1,141.5 643.2,138.4 643.3,134.9 643.4,133.8 643.4,132.0 643.4,131.8 643.5,131.4 643.5,131.1 643.5,130.8 643.6,130.9 643.7,131.7 643.7,132.4 643.8,134.1 643.8,135.0 643.9,136.6 644.0,137.2 644.0,137.8 644.0,138.0 644.1,138.0 644.1,137.5 644.2,137.0 644.3,135.6 644.3,134.8 644.4,133.3 644.4,132.6 644.5,132.0 644.5,131.9 644.5,131.9 644.6,131.9 644.6,132.4 644.7,133.0 644.8,134.7 644.8,135.7 644.9,139.0 645.0,141.9 645.1,143.5 645.1,143.9 645.3,145.1 645.4,145.7 645.5,146.0 645.5,146.0 645.6,146.3 645.7,146.3 645.8,146.4 646.2,147.0 646.5,147.2 646.8,147.4 647.4,147.6 647.5,147.7 647.9,147.7 648.5,147.8 648.5,147.8 649.0,147.8 649.5,147.8 649.6,147.8 650.5,147.8 651.5,147.8 652.5,147.8 653.5,147.8 654.5,147.8 655.5,147.8 656.5,147.8 657.5,147.8 658.5,147.8 659.5,147.8 660.5,147.8 661.5,147.8 662.5,147.8 663.5,147.8 664.5,147.8 665.5,147.8 666.5,147.8 667.5,147.8 668.5,147.8 669.5,147.8 670.5,147.8 671.5,147.8 672.5,147.8 673.5,147.8 674.5,147.8 675.5,147.8 676.5,147.8 677.5,147.8 678.5,147.8 679.5,147.8 680.5,147.8 681.5,147.8 682.5,147.8 683.5,147.8 684.5,147.8 685.5,147.8 686.5,147.8 687.5,147.8 688.5,147.8 689.5,147.8 690.5,147.8 691.5,147.8 692.5,147.8 693.5,147.8 694.5,147.8 695.5,147.8 696.5,147.8 697.5,147.8 698.5,147.8 699.5,147.8 700.5,147.8 701.5,147.8 702.5,147.8 703.5,147.8 704.5,147.8 705.5,147.8 706.5,147.8 707.5,147.8 708.5,147.8 709.5,147.8 710.5,147.8 711.5,147.8 712.5,147.8 713.5,147.8 714.5,147.8 715.5,147.8 716.5,147.8 717.5,147.8 718.5,147.8 719.5,147.8 720.5,147.8 721.5,147.8 722.5,147.8 723.5,147.8 724.5,147.8 725.5,147.8 726.5,147.8 727.5,147.8 728.5,147.8 729.5,147.8 730.5,147.8 731.5,147.8 732.5,147.8 733.5,147.8 734.5,147.8 735.5,147.8 736.5,147.8 737.5,147.8 738.5,147.8 739.5,147.8 740.5,147.8 741.5,147.8 742.5,147.8 743.5,147.8 744.5,147.8 745.5,147.8 746.5,147.8 747.5,147.8 748.5,147.8 749.5,147.8 750.5,147.8 750.6,147.8 751.2,147.8 751.5,147.8 751.9,147.8 752.5,147.7 752.5,147.7 753.2,147.6 753.5,147.5 753.8,147.4 754.4,147.0 754.5,146.9 755.1,146.3 755.4,146.0 755.5,145.9 755.5,145.9 755.6,145.7 755.7,145.5 755.7,145.5 755.8,145.2 756.0,144.6 756.1,143.7 756.2,142.5 756.3,141.1 756.4,140.6 756.4,140.5 756.4,139.9 756.5,139.6 756.5,139.5 756.5,139.4 756.6,139.4 756.7,139.7 756.7,140.0 756.8,140.6 756.8,141.0 756.9,141.6 757.0,141.8 757.0,142.1 757.0,142.1 757.1,142.2 757.1,142.0 757.2,141.8 757.3,141.2 757.3,140.9 757.4,140.3 757.4,140.1 757.5,139.9 757.5,139.8 757.5,139.8 757.6,140.1 757.6,140.1 757.7,140.3 757.8,141.0 757.8,141.4 757.9,142.8 758.0,143.9 758.1,144.8 758.3,145.3 758.3,145.4 758.4,145.6 758.5,145.8 758.5,145.8 758.6,146.0 758.8,146.1 758.9,146.3 759.5,146.9 759.6,147.0 760.2,147.4 760.5,147.5 760.8,147.6 761.5,147.7 761.5,147.7 762.0,147.8" fill="none" stroke="#ff00ff" stroke-width="2.2" stroke-linejoin="round"/>
<polyline points="451.5,196.7 452.5,196.7 453.5,196.7 454.5,196.7 455.5,196.7 456.5,196.7 457.5,196.7 458.5,196.7 459.5,196.7 460.5,196.7 461.5,196.7 462.5,196.7 463.5,196.7 464.5,196.7 465.5,196.7 466.5,196.7 467.5,196.7 468.5,196.7 469.5,196.7 470.5,196.7 471.5,196.7 472.5,196.7 473.5,196.7 474.5,196.7 475.5,196.7 476.5,196.7 477.5,196.7 478.5,196.7 479.5,196.7 480.5,196.7 481.5,196.7 482.5,196.7 483.5,196.7 484.5,196.7 485.5,196.7 486.5,196.7 486.6,196.7 486.8,196.7 487.1,196.7 487.3,196.6 487.5,196.6 487.6,196.5 487.8,196.3 488.0,195.8 488.3,195.1 488.5,194.4 488.5,194.3 488.8,193.7 489.0,193.4 489.2,193.7 489.5,194.3 489.5,194.4 489.7,195.1 490.0,195.8 490.2,196.3 490.4,196.5 490.5,196.6 490.7,196.6 490.9,196.7 491.2,196.7 491.4,196.7 491.5,196.7 492.5,196.7 493.5,196.7 494.5,196.7 495.5,196.7 496.5,196.7 497.5,196.7 498.5,196.7 499.5,196.7 500.5,196.7 501.5,196.7 502.5,196.7 503.5,196.7 504.5,196.7 505.5,196.7 506.5,196.7 507.5,196.7 508.5,196.7 509.5,196.7 510.5,196.7 511.5,196.7 512.5,196.7 513.5,196.7 514.5,196.7 515.5,196.7 516.5,196.7 517.5,196.7 518.5,196.7 519.5,196.7 520.5,196.7 521.5,196.7 522.5,196.7 523.5,196.7 524.5,196.7 525.5,196.7 526.5,196.7 527.5,196.7 528.5,196.7 529.5,196.7 530.5,196.7 531.5,196.7 532.5,196.7 533.5,196.7 534.5,196.7 535.5,196.7 536.5,196.7 537.5,196.7 538.5,196.7 539.5,196.7 540.5,196.7 541.5,196.7 541.9,196.7 542.3,196.7 542.5,196.7 542.7,196.7 543.1,196.6 543.5,196.4 543.9,196.2 543.9,196.1 544.0,196.1 544.1,195.9 544.2,195.7 544.3,195.3 544.3,195.2 544.5,194.3 544.5,193.8 544.6,192.9 544.7,190.9 544.7,190.7 544.8,188.6 544.9,187.9 544.9,186.7 545.0,186.3 545.0,185.9 545.1,185.9 545.1,185.9 545.2,186.4 545.2,186.8 545.3,187.9 545.3,188.4 545.4,189.5 545.5,189.9 545.5,190.2 545.5,190.3 545.6,190.4 545.6,190.1 545.7,189.7 545.8,188.9 545.8,188.4 545.9,187.4 545.9,187.3 545.9,187.0 546.0,186.6 546.0,186.6 546.1,187.0 546.2,187.4 546.2,188.5 546.3,189.2 546.3,189.3 546.4,191.3 546.5,192.8 546.5,193.2 546.6,194.5 546.7,194.9 546.8,195.3 546.9,195.8 547.0,196.0 547.1,196.1 547.1,196.2 547.2,196.3 547.5,196.4 547.9,196.6 548.3,196.7 548.5,196.7 548.7,196.7 549.1,196.7 549.5,196.7 550.5,196.7 551.5,196.7 552.5,196.7 553.5,196.7 554.5,196.7 555.5,196.7 556.5,196.7 557.5,196.7 558.5,196.7 559.5,196.7 560.5,196.7 561.5,196.7 562.5,196.7 563.5,196.7 564.5,196.7 565.5,196.7 565.8,196.7 566.3,196.7 566.5,196.7 566.8,196.7 567.4,196.6 567.5,196.6 567.9,196.5 568.4,196.3 568.5,196.2 568.9,195.9 569.4,195.3 569.4,195.2 569.5,195.1 569.5,195.1 569.6,194.8 569.7,194.2 569.8,192.7 570.0,189.7 570.0,189.4 570.1,184.5 570.2,176.9 570.3,168.2 570.4,165.5 570.4,161.0 570.5,159.4 570.5,159.1 570.5,158.6 570.5,158.0 570.6,158.3 570.7,160.4 570.7,162.1 570.8,166.5 570.8,168.8 570.9,172.9 571.0,174.5 571.0,175.9 571.0,176.4 571.1,176.5 571.1,175.2 571.2,173.9 571.3,170.3 571.3,168.2 571.4,164.3 571.4,162.7 571.5,160.9 571.5,160.8 571.5,160.7 571.5,160.6 571.6,161.9 571.7,163.4 571.8,167.6 571.8,170.1 571.9,178.2 572.0,185.3 572.0,185.8 572.1,190.2 572.3,193.0 572.4,194.3 572.5,194.9 572.5,195.0 572.6,195.1 572.6,195.3 572.8,195.5 573.1,195.9 573.5,196.2 573.6,196.3 574.1,196.5 574.5,196.6 574.6,196.6 575.2,196.7 575.5,196.7 575.7,196.7 575.8,196.7 576.1,196.7 576.2,196.7 576.4,196.7 576.5,196.7 576.8,196.6 577.1,196.5 577.4,196.3 577.5,196.2 577.7,195.9 578.0,195.4 578.4,194.7 578.5,194.5 578.7,194.2 579.0,194.0 579.3,194.2 579.5,194.5 579.6,194.7 580.0,195.4 580.3,195.9 580.5,196.2 580.6,196.3 580.9,196.5 581.2,196.6 581.5,196.7 581.6,196.7 581.9,196.7 582.2,196.7 582.5,196.7 583.5,196.7 584.5,196.7 585.5,196.7 586.5,196.7 587.5,196.7 588.5,196.7 589.5,196.7 590.5,196.7 591.5,196.7 592.5,196.7 593.5,196.7 594.5,196.7 595.5,196.7 596.5,196.7 597.5,196.7 598.5,196.7 599.5,196.7 600.5,196.7 601.5,196.7 602.5,196.7 603.5,196.7 603.9,196.7 604.3,196.7 604.5,196.7 604.7,196.7 605.1,196.6 605.5,196.4 605.9,196.2 605.9,196.1 606.0,196.1 606.1,195.9 606.2,195.7 606.3,195.5 606.3,195.4 606.5,194.8 606.5,194.4 606.6,193.8 606.7,192.5 606.7,192.4 606.8,191.0 606.9,190.5 606.9,189.7 607.0,189.5 607.0,189.2 607.1,189.2 607.1,189.2 607.2,189.5 607.2,189.7 607.3,190.4 607.3,190.7 607.4,191.4 607.5,191.6 607.5,191.9 607.5,191.9 607.6,192.0 607.6,191.8 607.7,191.6 607.8,191.0 607.8,190.7 607.9,190.1 607.9,190.1 607.9,189.9 608.0,189.7 608.0,189.7 608.1,189.9 608.2,190.2 608.2,190.9 608.3,191.4 608.3,191.5 608.4,192.8 608.5,193.8 608.5,194.0 608.6,195.0 608.7,195.2 608.8,195.5 608.9,195.8 609.0,196.0 609.1,196.1 609.1,196.2 609.2,196.3 609.5,196.4 609.9,196.6 610.3,196.7 610.5,196.7 610.7,196.7 611.1,196.7 611.5,196.7 612.5,196.7 613.5,196.7 614.5,196.7 615.5,196.7 616.5,196.7 617.5,196.7 618.5,196.7 619.5,196.7 620.5,196.7 621.5,196.7 622.5,196.7 623.5,196.7 624.5,196.7 625.5,196.7 626.5,196.7 627.5,196.7 628.5,196.7 629.5,196.7 630.5,196.7 631.5,196.7 632.5,196.7 633.5,196.7 634.5,196.7 635.5,196.7 636.5,196.7 637.5,196.7 638.5,196.7 639.5,196.7 640.5,196.7 641.5,196.7 642.5,196.7 643.5,196.7 644.5,196.7 645.5,196.7 646.5,196.7 647.5,196.7 648.5,196.7 649.5,196.7 650.5,196.7 651.5,196.7 652.5,196.7 653.5,196.7 654.5,196.7 654.8,196.7 655.1,196.7 655.4,196.7 655.5,196.7 655.6,196.6 655.9,196.5 656.2,196.3 656.5,195.8 656.5,195.8 656.8,195.2 657.0,194.4 657.3,193.8 657.5,193.6 657.6,193.6 657.9,193.8 658.2,194.4 658.4,195.2 658.5,195.3 658.7,195.8 659.0,196.3 659.3,196.5 659.5,196.6 659.6,196.6 659.8,196.7 660.1,196.7 660.4,196.7 660.5,196.7 661.5,196.7 662.5,196.7 663.5,196.7 664.5,196.7 665.5,196.7 666.5,196.7 667.5,196.7 668.5,196.7 669.5,196.7 670.0,196.7 670.4,196.7 670.5,196.7 670.8,196.7 671.2,196.7 671.5,196.6 671.6,196.6 672.0,196.4 672.4,196.2 672.4,196.1 672.5,196.1 672.5,196.0 672.6,195.9 672.7,195.7 672.8,195.4 672.8,195.2 673.0,194.5 673.1,193.2 673.2,191.4 673.2,191.2 673.3,189.3 673.4,188.7 673.4,187.6 673.5,187.2 673.5,187.0 673.5,186.9 673.6,186.9 673.6,186.9 673.7,187.3 673.7,187.7 673.8,188.6 673.8,189.1 673.9,190.0 674.0,190.4 674.0,190.7 674.0,190.8 674.1,190.9 674.1,190.6 674.2,190.3 674.3,189.5 674.3,189.1 674.4,188.2 674.4,188.1 674.4,187.9 674.5,187.5 674.5,187.5 674.5,187.5 674.6,187.9 674.7,188.2 674.8,189.2 674.8,189.8 674.8,190.0 674.9,191.8 675.0,193.5 675.1,194.7 675.2,195.0 675.3,195.4 675.4,195.8 675.5,196.0 675.5,196.0 675.6,196.1 675.6,196.2 675.8,196.3 676.0,196.4 676.4,196.6 676.5,196.6 676.8,196.7 677.2,196.7 677.5,196.7 677.6,196.7 678.0,196.7 678.5,196.7 679.5,196.7 680.5,196.7 681.5,196.7 682.5,196.7 683.5,196.7 684.5,196.7 685.5,196.7 686.5,196.7 687.5,196.7 688.5,196.7 689.5,196.7 690.5,196.7 691.5,196.7 692.5,196.7 693.5,196.7 694.5,196.7 695.5,196.7 696.5,196.7 696.6,196.7 697.0,196.7 697.4,196.7 697.5,196.7 697.8,196.7 698.2,196.6 698.5,196.5 698.6,196.4 699.0,196.2 699.0,196.1 699.1,196.1 699.2,195.9 699.3,195.6 699.4,195.2 699.4,195.1 699.5,194.5 699.5,194.0 699.7,192.3 699.8,189.8 699.8,189.6 699.9,187.0 700.0,186.1 700.0,184.7 700.1,184.1 700.1,183.7 700.2,183.7 700.2,183.7 700.3,184.3 700.3,184.9 700.4,186.2 700.4,186.9 700.5,188.0 700.5,188.2 700.5,188.7 700.6,189.1 700.6,189.3 700.7,189.3 700.8,188.9 700.8,188.5 700.9,187.4 700.9,186.8 701.0,185.6 701.0,185.5 701.0,185.1 701.1,184.6 701.1,184.5 701.2,185.0 701.3,185.5 701.4,186.8 701.4,187.7 701.4,187.9 701.5,190.1 701.5,190.3 701.6,192.6 701.8,194.3 701.8,194.7 701.9,195.2 702.0,195.7 702.1,196.0 702.2,196.1 702.2,196.2 702.4,196.3 702.5,196.4 702.6,196.4 703.0,196.6 703.4,196.7 703.5,196.7 703.8,196.7 704.2,196.7 704.5,196.7 704.6,196.7 705.5,196.7 706.5,196.7 707.5,196.7 708.5,196.7 709.5,196.7 710.5,196.7 711.5,196.7 712.5,196.7 713.5,196.7 714.5,196.7 715.5,196.7 716.5,196.7 717.5,196.7 718.5,196.7 719.5,196.7 720.5,196.7 721.5,196.7 722.5,196.7 723.5,196.7 724.5,196.7 725.5,196.7 726.5,196.7 727.5,196.7 728.5,196.7 729.5,196.7 730.5,196.7 731.5,196.7 732.5,196.7 733.5,196.7 734.5,196.7 735.5,196.7 736.5,196.7 737.5,196.7 737.8,196.7 738.1,196.7 738.4,196.7 738.5,196.7 738.8,196.7 739.1,196.6 739.4,196.5 739.5,196.5 739.7,196.3 740.0,196.1 740.4,195.8 740.5,195.6 740.7,195.5 741.0,195.4 741.3,195.5 741.5,195.6 741.6,195.8 742.0,196.1 742.3,196.3 742.5,196.5 742.6,196.5 742.9,196.6 743.2,196.7 743.5,196.7 743.6,196.7 743.9,196.7 744.2,196.7 744.5,196.7 745.5,196.7 746.5,196.7 747.5,196.7 748.5,196.7 749.5,196.7 750.5,196.7 751.5,196.7 751.8,196.7 752.1,196.7 752.4,196.7 752.5,196.7 752.8,196.6 753.1,196.5 753.4,196.3 753.5,196.2 753.7,195.9 754.0,195.4 754.4,194.7 754.5,194.5 754.7,194.2 755.0,194.0 755.3,194.2 755.5,194.5 755.6,194.7 756.0,195.4 756.3,195.9 756.5,196.2 756.6,196.3 756.9,196.5 757.2,196.6 757.5,196.7 757.6,196.7 757.9,196.7 758.2,196.7 758.5,196.7 759.5,196.7 760.5,196.7 761.5,196.7 762.0,196.7" fill="none" stroke="#6e6e6e" stroke-width="2.2" stroke-linejoin="round"/>
<polyline points="451.5,246.2 452.5,246.2 453.5,246.2 454.5,246.2 455.5,246.2 456.5,246.2 457.5,246.2 458.5,246.2 459.5,246.2 460.5,246.2 461.5,246.2 462.5,246.2 463.5,246.2 464.5,246.2 465.5,246.2 466.5,246.2 467.5,246.2 468.5,246.2 469.5,246.2 470.5,246.2 471.5,246.2 472.5,246.2 473.5,246.2 474.5,246.2 475.5,246.2 476.5,246.2 477.5,246.2 478.5,246.2 479.5,246.2 480.5,246.2 481.5,246.2 482.5,246.2 483.5,246.2 484.5,246.2 485.5,246.2 486.5,246.2 487.5,246.2 488.5,246.2 489.5,246.2 490.5,246.2 491.5,246.2 492.5,246.2 493.5,246.2 494.5,246.2 495.5,246.2 496.5,246.2 497.5,246.2 498.5,246.2 499.5,246.2 500.5,246.2 501.5,246.2 502.5,246.2 503.5,246.2 504.5,246.2 505.5,246.2 506.5,246.2 507.5,246.2 508.5,246.2 509.5,246.2 510.5,246.2 511.5,246.2 512.5,246.2 513.5,246.2 514.5,246.2 515.5,246.2 516.5,246.2 517.5,246.2 518.5,246.2 519.5,246.2 520.5,246.2 521.5,246.2 522.5,246.2 523.5,246.2 524.5,246.2 525.5,246.2 526.5,246.2 527.5,246.2 528.5,246.2 529.5,246.2 530.5,246.2 531.5,246.2 532.5,246.2 533.5,246.2 534.5,246.2 535.5,246.2 536.5,246.2 537.5,246.2 538.5,246.2 539.5,246.2 540.5,246.2 541.5,246.2 542.5,246.2 543.5,246.2 544.5,246.2 545.5,246.2 546.5,246.2 547.5,246.2 548.5,246.2 549.5,246.2 550.5,246.2 551.5,246.2 552.5,246.2 552.6,246.2 553.2,246.2 553.5,246.2 553.8,246.2 554.4,246.1 554.5,246.1 555.0,246.0 555.5,245.8 555.6,245.8 556.2,245.4 556.5,245.1 556.8,244.7 557.0,244.5 557.1,244.4 557.2,244.1 557.3,243.4 557.4,242.4 557.4,242.0 557.5,240.5 557.5,239.0 557.7,233.7 557.8,226.1 557.9,217.4 558.0,214.7 558.0,211.7 558.0,210.2 558.1,208.7 558.1,207.3 558.2,207.5 558.3,209.7 558.3,211.5 558.4,215.8 558.4,218.1 558.5,221.8 558.5,222.3 558.5,223.9 558.6,225.3 558.6,225.8 558.7,225.9 558.8,224.6 558.8,223.3 558.9,219.6 558.9,217.6 559.0,213.6 559.0,212.0 559.1,210.1 559.1,209.9 559.2,210.4 559.2,211.2 559.3,212.6 559.4,216.8 559.4,219.3 559.5,226.8 559.5,227.5 559.6,234.5 559.8,239.4 559.8,240.8 559.9,242.2 560.0,243.6 560.1,244.2 560.2,244.5 560.4,244.7 560.4,244.7 560.5,244.9 561.0,245.4 561.5,245.7 561.6,245.8 562.2,246.0 562.5,246.1 562.8,246.1 563.4,246.2 563.5,246.2 564.0,246.2 564.5,246.2 564.6,246.2 565.5,246.2 566.5,246.2 567.5,246.2 568.5,246.2 569.5,246.2 570.5,246.2 571.5,246.2 572.5,246.2 573.5,246.2 574.5,246.2 575.5,246.2 576.5,246.2 577.5,246.2 578.5,246.2 579.5,246.2 580.5,246.2 581.5,246.2 582.5,246.2 583.5,246.2 584.5,246.2 585.5,246.2 586.5,246.2 587.5,246.2 588.5,246.2 589.4,246.2 589.5,246.2 590.0,246.2 590.5,246.2 590.6,246.2 591.2,246.1 591.5,246.1 591.8,246.0 592.4,245.8 592.5,245.7 593.0,245.4 593.5,244.9 593.6,244.7 593.8,244.6 593.9,244.4 594.0,244.1 594.1,243.6 594.2,242.8 594.2,242.4 594.4,240.1 594.5,236.0 594.5,234.7 594.6,230.1 594.7,223.3 594.8,221.2 594.8,218.9 594.8,217.7 594.9,216.5 595.0,215.4 595.0,215.6 595.1,217.3 595.1,218.6 595.2,222.0 595.2,223.8 595.3,227.0 595.4,228.3 595.4,229.4 595.4,229.7 595.5,229.8 595.5,229.6 595.5,228.8 595.6,227.8 595.7,225.0 595.7,223.4 595.8,220.3 595.8,219.1 595.9,217.6 596.0,217.4 596.0,217.9 596.0,218.5 596.1,219.6 596.1,222.8 596.2,224.8 596.3,231.1 596.4,236.6 596.5,239.1 596.5,240.5 596.6,241.5 596.7,242.7 596.8,243.7 596.9,244.2 597.0,244.5 597.1,244.7 597.2,244.7 597.5,245.1 597.8,245.4 598.4,245.8 598.5,245.8 599.0,246.0 599.5,246.1 599.6,246.1 600.2,246.2 600.5,246.2 600.8,246.2 601.4,246.2 601.5,246.2 602.5,246.2 603.5,246.2 604.5,246.2 605.5,246.2 606.5,246.2 607.5,246.2 608.5,246.2 609.5,246.2 610.5,246.2 611.5,246.2 612.5,246.2 613.5,246.2 614.5,246.2 615.5,246.2 616.5,246.2 617.5,246.2 618.5,246.2 619.5,246.2 620.5,246.2 621.5,246.2 622.5,246.2 623.5,246.2 624.5,246.2 625.2,246.2 625.5,246.2 625.5,246.2 625.8,246.2 626.0,246.2 626.3,246.1 626.5,246.0 626.6,245.9 626.9,245.6 627.2,245.1 627.4,244.6 627.5,244.5 627.7,244.2 628.0,244.0 628.3,244.2 628.5,244.5 628.6,244.6 628.8,245.1 629.1,245.6 629.4,245.9 629.5,246.0 629.7,246.1 630.0,246.2 630.2,246.2 630.5,246.2 630.5,246.2 630.8,246.2 631.5,246.2 632.5,246.2 633.5,246.2 634.5,246.2 635.5,246.2 636.5,246.2 637.5,246.2 638.5,246.2 639.5,246.2 640.5,246.2 641.5,246.2 642.5,246.2 643.5,246.2 644.5,246.2 645.5,246.2 646.5,246.2 647.5,246.2 648.5,246.2 649.5,246.2 650.5,246.2 651.5,246.2 652.5,246.2 653.5,246.2 654.5,246.2 655.5,246.2 656.5,246.2 657.5,246.2 658.5,246.2 659.5,246.2 660.5,246.2 661.5,246.2 662.5,246.2 663.5,246.2 664.5,246.2 665.5,246.2 666.5,246.2 667.5,246.2 668.5,246.2 669.5,246.2 670.5,246.2 671.5,246.2 672.5,246.2 673.5,246.2 674.5,246.2 675.5,246.2 676.5,246.2 677.5,246.2 677.6,246.2 678.1,246.2 678.5,246.2 678.6,246.2 679.2,246.1 679.5,246.1 679.7,246.0 680.2,245.8 680.5,245.6 680.7,245.4 681.1,244.9 681.2,244.7 681.3,244.7 681.4,244.4 681.5,244.1 681.5,244.1 681.6,243.3 681.8,242.0 681.8,241.8 681.9,239.7 682.0,236.3 682.1,232.6 682.1,231.4 682.2,229.4 682.3,228.7 682.3,228.6 682.4,228.1 682.4,228.2 682.5,229.1 682.5,229.6 682.5,229.8 682.6,231.6 682.6,232.6 682.7,234.4 682.8,235.0 682.8,235.6 682.8,235.8 682.9,235.9 683.0,235.4 683.0,234.8 683.1,233.3 683.1,232.4 683.2,230.8 683.2,230.1 683.3,229.3 683.3,229.3 683.4,229.3 683.4,229.9 683.5,230.5 683.5,231.1 683.5,232.3 683.6,233.4 683.7,237.0 683.8,240.1 683.8,240.3 684.0,242.3 684.1,243.5 684.2,244.2 684.3,244.6 684.4,244.7 684.4,244.8 684.5,244.9 684.5,245.0 684.9,245.4 685.4,245.8 685.5,245.9 685.9,246.0 686.4,246.1 686.5,246.1 687.0,246.2 687.5,246.2 687.5,246.2 688.0,246.2 688.5,246.2 689.5,246.2 690.5,246.2 691.5,246.2 692.5,246.2 693.5,246.2 694.5,246.2 695.5,246.2 696.5,246.2 697.5,246.2 698.5,246.2 699.5,246.2 700.5,246.2 701.5,246.2 702.5,246.2 703.5,246.2 704.5,246.2 705.5,246.2 706.5,246.2 707.5,246.2 708.5,246.2 709.5,246.2 710.5,246.2 711.5,246.2 712.5,246.2 713.5,246.2 714.5,246.2 715.5,246.2 716.5,246.2 717.5,246.2 718.5,246.2 719.5,246.2 720.5,246.2 721.5,246.2 722.5,246.2 723.5,246.2 724.5,246.2 725.5,246.2 726.5,246.2 727.5,246.2 728.2,246.2 728.5,246.2 728.5,246.2 728.8,246.2 729.0,246.1 729.3,246.1 729.5,245.9 729.6,245.8 729.9,245.5 730.2,244.9 730.4,244.3 730.5,244.2 730.7,243.8 731.0,243.6 731.3,243.8 731.5,244.2 731.6,244.3 731.8,244.9 732.1,245.5 732.4,245.8 732.5,245.9 732.7,246.1 733.0,246.1 733.2,246.2 733.5,246.2 733.5,246.2 733.8,246.2 734.5,246.2 735.5,246.2 736.5,246.2 737.5,246.2 738.5,246.2 739.5,246.2 740.5,246.2 741.5,246.2 742.5,246.2 743.5,246.2 744.5,246.2 745.5,246.2 746.5,246.2 747.5,246.2 748.5,246.2 749.5,246.2 750.5,246.2 751.5,246.2 751.7,246.2 752.0,246.2 752.3,246.2 752.5,246.2 752.5,246.1 752.8,246.1 753.1,245.8 753.4,245.5 753.5,245.3 753.7,244.9 753.9,244.3 754.2,243.8 754.5,243.6 754.8,243.8 755.1,244.3 755.3,244.9 755.5,245.3 755.6,245.5 755.9,245.8 756.2,246.1 756.5,246.1 756.5,246.2 756.7,246.2 757.0,246.2 757.3,246.2 757.5,246.2 758.5,246.2 759.5,246.2 760.5,246.2 761.5,246.2 762.5,246.2 763.0,246.2" fill="none" stroke="#ee0000" stroke-width="2.2" stroke-linejoin="round"/>
<polyline points="451.5,295.0 452.5,295.0 453.5,295.0 454.0,295.0 454.4,295.0 454.5,295.0 454.8,294.9 455.2,294.8 455.5,294.5 455.6,294.3 456.0,293.4 456.3,292.1 456.4,291.6 456.5,291.1 456.5,291.1 456.7,289.9 456.8,288.7 456.8,288.5 457.0,286.3 457.2,282.9 457.2,281.8 457.3,277.8 457.5,271.0 457.6,266.6 457.7,264.0 457.8,258.0 458.0,255.7 458.2,258.0 458.3,264.0 458.4,266.6 458.5,271.0 458.7,277.8 458.8,281.8 458.8,282.9 459.0,286.3 459.2,288.5 459.2,288.7 459.3,289.9 459.5,291.1 459.5,291.1 459.6,291.6 459.7,292.1 460.0,293.4 460.4,294.3 460.5,294.5 460.8,294.8 461.2,294.9 461.5,295.0 461.6,295.0 462.0,295.0 462.5,295.0 463.5,295.0 464.5,295.0 465.5,295.0 466.5,295.0 467.5,295.0 468.5,295.0 469.5,295.0 470.5,295.0 471.5,295.0 472.5,295.0 473.5,295.0 474.5,295.0 475.5,295.0 476.5,295.0 477.5,295.0 478.5,295.0 479.5,295.0 480.5,295.0 481.5,295.0 482.5,295.0 483.5,295.0 484.5,295.0 485.5,295.0 486.5,295.0 487.5,295.0 488.5,295.0 489.5,295.0 490.5,295.0 491.5,295.0 492.4,295.0 492.5,295.0 492.7,295.0 493.0,295.0 493.2,294.9 493.5,294.8 493.5,294.7 493.8,294.4 494.1,293.7 494.4,292.8 494.5,292.3 494.6,291.7 494.9,290.8 495.2,290.5 495.5,290.8 495.5,290.9 495.8,291.7 496.0,292.8 496.3,293.7 496.5,294.2 496.6,294.4 496.9,294.7 497.2,294.9 497.4,295.0 497.5,295.0 497.7,295.0 498.0,295.0 498.5,295.0 499.5,295.0 500.5,295.0 501.5,295.0 502.5,295.0 503.5,295.0 504.5,295.0 505.5,295.0 505.6,295.0 505.8,295.0 506.1,295.0 506.3,295.0 506.5,294.9 506.6,294.9 506.8,294.8 507.0,294.7 507.3,294.4 507.5,294.2 507.5,294.1 507.8,293.9 508.0,293.8 508.2,293.9 508.5,294.1 508.5,294.2 508.7,294.4 509.0,294.7 509.2,294.8 509.4,294.9 509.5,294.9 509.7,295.0 509.9,295.0 510.2,295.0 510.4,295.0 510.5,295.0 511.5,295.0 511.6,295.0 511.8,295.0 512.1,295.0 512.3,295.0 512.5,294.9 512.6,294.9 512.8,294.8 513.0,294.7 513.3,294.4 513.5,294.2 513.5,294.1 513.8,293.9 514.0,293.8 514.2,293.9 514.5,294.1 514.5,294.2 514.7,294.4 515.0,294.7 515.2,294.8 515.4,294.9 515.5,294.9 515.6,295.0 515.7,295.0 515.8,295.0 515.9,295.0 516.1,295.0 516.2,295.0 516.3,295.0 516.4,295.0 516.5,294.9 516.6,294.9 516.8,294.8 517.0,294.7 517.3,294.4 517.5,294.2 517.5,294.1 517.8,293.9 518.0,293.8 518.2,293.9 518.5,294.1 518.5,294.2 518.7,294.4 519.0,294.7 519.2,294.8 519.4,294.9 519.5,294.9 519.7,295.0 519.9,295.0 520.2,295.0 520.4,295.0 520.5,295.0 521.5,295.0 522.5,295.0 523.5,295.0 524.5,295.0 525.5,295.0 526.5,295.0 527.5,295.0 528.5,295.0 529.5,295.0 530.5,295.0 531.5,295.0 531.6,295.0 531.8,295.0 532.1,295.0 532.3,295.0 532.5,294.9 532.6,294.9 532.8,294.8 533.0,294.7 533.3,294.4 533.5,294.2 533.5,294.1 533.8,293.9 534.0,293.8 534.2,293.9 534.5,294.1 534.5,294.2 534.7,294.4 535.0,294.7 535.2,294.8 535.4,294.9 535.5,294.9 535.7,295.0 535.9,295.0 536.2,295.0 536.4,295.0 536.5,295.0 537.5,295.0 538.5,295.0 539.5,295.0 540.5,295.0 541.5,295.0 542.5,295.0 543.5,295.0 544.5,295.0 545.5,295.0 546.5,295.0 547.5,295.0 548.5,295.0 549.5,295.0 550.5,295.0 551.5,295.0 552.5,295.0 553.5,295.0 554.5,295.0 555.5,295.0 556.5,295.0 557.5,295.0 558.5,295.0 559.5,295.0 560.5,295.0 561.5,295.0 562.5,295.0 563.5,295.0 564.5,295.0 565.5,295.0 566.5,295.0 567.5,295.0 568.5,295.0 569.5,295.0 570.5,295.0 571.5,295.0 572.5,295.0 572.6,295.0 572.8,295.0 573.1,295.0 573.3,295.0 573.5,295.0 573.6,294.9 573.8,294.9 574.0,294.7 574.3,294.5 574.5,294.3 574.5,294.3 574.8,294.1 575.0,294.0 575.2,294.1 575.5,294.3 575.5,294.3 575.7,294.5 576.0,294.7 576.2,294.9 576.4,294.9 576.5,295.0 576.7,295.0 576.9,295.0 577.2,295.0 577.4,295.0 577.5,295.0 578.5,295.0 579.5,295.0 580.5,295.0 581.5,295.0 582.5,295.0 583.5,295.0 584.5,295.0 585.5,295.0 586.5,295.0 587.5,295.0 588.5,295.0 589.5,295.0 590.5,295.0 591.5,295.0 592.5,295.0 592.6,295.0 592.8,295.0 593.1,295.0 593.3,295.0 593.5,295.0 593.6,294.9 593.8,294.9 594.0,294.7 594.3,294.5 594.5,294.3 594.5,294.3 594.8,294.1 595.0,294.0 595.2,294.1 595.5,294.3 595.5,294.3 595.7,294.5 596.0,294.7 596.2,294.9 596.4,294.9 596.5,295.0 596.7,295.0 596.9,295.0 597.2,295.0 597.4,295.0 597.5,295.0 598.5,295.0 599.5,295.0 600.5,295.0 601.5,295.0 602.5,295.0 603.5,295.0 604.5,295.0 605.5,295.0 606.5,295.0 607.5,295.0 608.5,295.0 609.5,295.0 610.5,295.0 611.5,295.0 612.5,295.0 613.5,295.0 614.5,295.0 615.5,295.0 616.5,295.0 617.5,295.0 618.5,295.0 619.5,295.0 620.5,295.0 621.5,295.0 622.5,295.0 623.5,295.0 624.5,295.0 625.5,295.0 626.5,295.0 627.5,295.0 628.5,295.0 629.5,295.0 630.5,295.0 631.5,295.0 632.5,295.0 633.5,295.0 634.5,295.0 635.5,295.0 636.5,295.0 637.5,295.0 637.6,295.0 637.8,295.0 638.1,295.0 638.3,295.0 638.5,295.0 638.6,294.9 638.8,294.9 639.0,294.7 639.3,294.5 639.5,294.3 639.5,294.3 639.8,294.1 640.0,294.0 640.2,294.1 640.5,294.3 640.5,294.3 640.7,294.5 641.0,294.7 641.2,294.9 641.4,294.9 641.5,295.0 641.7,295.0 641.9,295.0 642.2,295.0 642.4,295.0 642.5,295.0 643.5,295.0 644.5,295.0 645.5,295.0 646.5,295.0 647.5,295.0 648.5,295.0 649.5,295.0 650.5,295.0 651.5,295.0 652.5,295.0 653.5,295.0 654.5,295.0 655.5,295.0 656.5,295.0 657.5,295.0 658.5,295.0 659.5,295.0 660.5,295.0 661.5,295.0 662.5,295.0 663.5,295.0 664.5,295.0 665.5,295.0 666.5,295.0 667.5,295.0 668.5,295.0 669.5,295.0 670.5,295.0 671.5,295.0 672.5,295.0 673.5,295.0 674.5,295.0 675.5,295.0 676.5,295.0 677.5,295.0 678.5,295.0 679.5,295.0 680.5,295.0 681.5,295.0 682.5,295.0 683.5,295.0 684.5,295.0 685.5,295.0 686.5,295.0 687.5,295.0 688.5,295.0 689.5,295.0 690.5,295.0 691.5,295.0 692.5,295.0 693.5,295.0 694.5,295.0 695.5,295.0 696.5,295.0 697.5,295.0 698.5,295.0 699.5,295.0 700.5,295.0 701.5,295.0 702.5,295.0 703.5,295.0 704.5,295.0 705.5,295.0 706.5,295.0 707.5,295.0 708.5,295.0 709.5,295.0 710.5,295.0 711.5,295.0 712.5,295.0 713.5,295.0 714.5,295.0 715.5,295.0 716.5,295.0 717.5,295.0 718.5,295.0 719.5,295.0 720.5,295.0 721.5,295.0 722.5,295.0 723.5,295.0 724.5,295.0 725.5,295.0 726.5,295.0 727.5,295.0 728.5,295.0 729.5,295.0 730.5,295.0 731.5,295.0 732.5,295.0 733.5,295.0 734.5,295.0 735.5,295.0 736.5,295.0 737.5,295.0 738.5,295.0 739.5,295.0 740.5,295.0 741.5,295.0 742.5,295.0 743.5,295.0 744.5,295.0 745.5,295.0 746.5,295.0 747.5,295.0 748.5,295.0 749.5,295.0 750.5,295.0 751.5,295.0 752.5,295.0 753.5,295.0 754.5,295.0 755.5,295.0 756.5,295.0 757.5,295.0 758.5,295.0 759.5,295.0 760.5,295.0 761.5,295.0 762.0,295.0" fill="none" stroke="#0a7a0a" stroke-width="2.2" stroke-linejoin="round"/>
<path d="M456 21.3H489.5" stroke="#000" stroke-width="2.4"/>
<text x="492.5" y="25.6" class="lb" style="text-anchor:start">S-Ti after 100 cycles</text>
<path d="M605.4 68H638.5" stroke="#0000e6" stroke-width="2.4"/>
<text x="780.5" y="73.5" class="lb">Graphite 98-006-2711</text>
<path d="M643.3 111.9H675.5" stroke="#ff00ff" stroke-width="2.4"/>
<text x="780.5" y="116.8" class="lb">Cu 98-008-7416</text>
<path d="M624.7 162.2H657" stroke="#6e6e6e" stroke-width="2.4"/>
<text x="780.5" y="166.7" class="lb">Fe<tspan class="sb" dy="3.8">3</tspan><tspan dy="-3.8">O</tspan><tspan class="sb" dy="3.8">4</tspan><tspan dy="-3.8"> 98-004-0562</tspan></text>
<path d="M627.2 214.2H660" stroke="#ee0000" stroke-width="2.4"/>
<text x="779" y="219.2" class="lb">Li<tspan class="sb" dy="3.8">2</tspan><tspan dy="-3.8">O</tspan><tspan class="sb" dy="3.8">2</tspan><tspan dy="-3.8"> 98-011-7028</tspan></text>
<path d="M616.8 268.4H649.5" stroke="#0a7a0a" stroke-width="2.4"/>
<text x="778.8" y="273.4" class="lb">Li<tspan class="sb" dy="3.8">4</tspan><tspan dy="-3.8">CO</tspan><tspan class="sb" dy="3.8">4</tspan><tspan dy="-3.8"> 98-008-7414</tspan></text>
<rect x="42" y="5.9" width="337.8" height="295.4" fill="none" stroke="#000" stroke-width="3.7"/>
<rect x="449.7" y="6.9" width="336.3" height="294.3" fill="none" stroke="#000" stroke-width="3.6"/>
<path d="M79.0 301V307.7M139.0 301V307.7M199.0 301V307.7M259.0 301V307.7M319.0 301V307.7M379.0 301V307.7M449.7 301V307.5M497.7 301V307.5M545.6 301V307.5M593.6 301V307.5M641.6 301V307.5M689.5 301V307.5M737.5 301V307.5M785.5 301V307.5" stroke="#000" stroke-width="3.6"/>
<path d="M49.0 301V304.2M109.0 301V304.2M169.0 301V304.2M229.0 301V304.2M289.0 301V304.2M349.0 301V304.2M473.7 301V304.2M521.7 301V304.2M569.6 301V304.2M617.6 301V304.2M665.6 301V304.2M713.5 301V304.2M761.5 301V304.2" stroke="#000" stroke-width="3.2"/>
<text x="78.0" y="326" class="tl">15</text>
<text x="138.0" y="326" class="tl">20</text>
<text x="198.0" y="326" class="tl">25</text>
<text x="258.0" y="326" class="tl">30</text>
<text x="318.0" y="326" class="tl">35</text>
<text x="378.0" y="326" class="tl">40</text>
<text x="448.7" y="326" class="tl">10</text>
<text x="496.7" y="326" class="tl">20</text>
<text x="544.6" y="326" class="tl">30</text>
<text x="592.6" y="326" class="tl">40</text>
<text x="640.6" y="326" class="tl">50</text>
<text x="688.5" y="326" class="tl">60</text>
<text x="736.5" y="326" class="tl">70</text>
<text x="784.5" y="326" class="tl">80</text>
<text x="209.8" y="354.3" class="xl">2<tspan class="th">θ</tspan> (degree)</text>
<text x="617" y="354.3" class="xl">2<tspan class="th">θ</tspan> (degree)</text>
<text transform="translate(26 153) rotate(-90)" class="yl">Intensity (a. u.)</text>
<text transform="translate(435.5 153) rotate(-90)" class="yl">Intensity (a. u.)</text>
<text x="17" y="23" class="pl">(a)</text>
<text x="421.5" y="23" class="pl">(b)</text>
<circle cx="72.2" cy="18.1" r="4.2" fill="none" stroke="#000" stroke-width="1.2"/>
<text x="93.2" y="23" class="lg">Observed</text>
<path d="M54.4 37.7H90.5" stroke="#c40000" stroke-width="1.9"/>
<text x="93.2" y="42.6" class="lg">Calculated</text>
<path d="M54.4 57.8H90.5" stroke="#0000e6" stroke-width="1.9"/>
<text x="93.2" y="62" class="lg">Difference</text>
<path d="M72.7 73.4V81" stroke="#c86a0c" stroke-width="1.7"/>
<text x="93.2" y="81.8" class="lg">Bragg position</text>
<text x="374.5" y="25.6" class="tt">S-Ti after 100 cycles</text>
</svg></body></html>
